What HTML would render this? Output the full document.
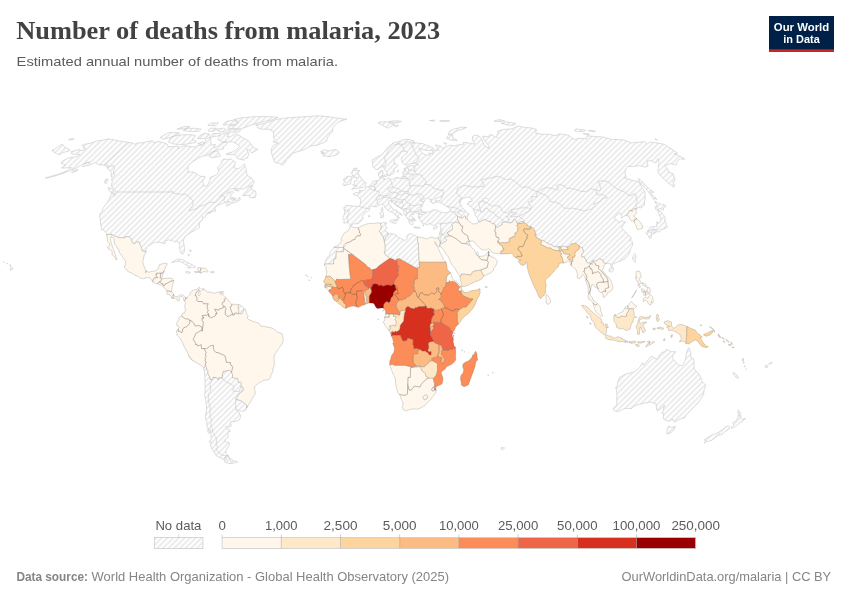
<!DOCTYPE html>
<html lang="en">
<head>
<meta charset="utf-8">
<title>Number of deaths from malaria, 2023</title>
<style>
html,body{margin:0;padding:0;background:#fff;}
body{width:850px;height:600px;overflow:hidden;}
svg{display:block;}
.sans{font-family:"Liberation Sans",Arial,Helvetica,sans-serif;}
.serif{font-family:"Liberation Serif","Times New Roman",Times,serif;}
</style>
</head>
<body>
<svg width="850" height="600" viewBox="0 0 850 600">
<defs>
<pattern id="hatch" patternUnits="userSpaceOnUse" width="4" height="4" patternTransform="rotate(-45 2 2)">
<rect x="-1" y="-1" width="6" height="6" fill="#fff"/>
<path d="M-1,2 l6,0" stroke="#e9e9e9" stroke-width="1.7"/>
</pattern>
<clipPath id="mapclip"><rect x="0" y="85" width="850" height="400"/></clipPath>
</defs>
<rect width="850" height="600" fill="#fff"/>
<!-- header -->
<text class="serif" x="16.2" y="39.2" font-size="25.6" font-weight="700" fill="#424242" textLength="424" lengthAdjust="spacingAndGlyphs">Number of deaths from malaria, 2023</text>
<text class="sans" x="16.6" y="66.3" font-size="13.6" fill="#5b5b5b" textLength="321.5" lengthAdjust="spacingAndGlyphs">Estimated annual number of deaths from malaria.</text>
<!-- logo -->
<g>
<rect x="769" y="16" width="65" height="36" fill="#002147"/>
<rect x="769" y="49.3" width="65" height="2.7" fill="#ce261e"/>
<text class="sans" x="801.5" y="30.8" font-size="11.4" font-weight="700" fill="#fff" text-anchor="middle" textLength="55.3" lengthAdjust="spacingAndGlyphs">Our World</text>
<text class="sans" x="801.5" y="42.6" font-size="11.4" font-weight="700" fill="#fff" text-anchor="middle" textLength="36.5" lengthAdjust="spacingAndGlyphs">in Data</text>
</g>
<!-- map -->
<g clip-path="url(#mapclip)">
<path d="M424.9,400.0 427.3,398.0 428.0,396.7 426.4,394.6 424.5,395.4 422.7,397.3 423.4,399.1ZM385.2,238.9 384.1,240.7 385.1,245.2 384.8,247.8 385.1,250.5 384.0,251.4 385.4,254.9 389.9,258.3 393.3,259.2 394.9,260.7 398.9,258.4 417.3,268.8 417.2,267.5 419.5,267.5 418.3,243.3 417.5,240.9 417.6,237.8 418.2,237.0 413.8,235.3 412.4,234.0 410.2,233.7 408.1,234.5 406.6,236.1 407.2,237.9 407.0,239.2 405.1,240.5 396.8,236.8 396.3,235.0 394.1,234.2 391.9,233.7 389.9,233.8 388.2,233.1 388.2,235.0 385.6,236.8ZM381.0,229.1 379.3,230.6 379.3,231.4 380.7,233.2 381.2,234.8 382.8,235.8 384.1,240.7 385.2,238.9 385.6,236.8 388.2,235.0 388.2,233.1 387.2,232.1 385.0,231.1 385.0,230.3 386.4,229.0 387.0,227.7 385.9,226.1 385.6,224.6 386.6,222.7 384.9,223.5 385.1,222.5 384.0,222.2 381.5,223.1 381.0,223.1 380.7,224.4 381.1,227.4ZM333.8,259.6 336.1,258.4 336.2,251.8 343.6,251.8 343.7,247.4 333.9,247.4 332.4,250.1 330.6,251.5 329.4,255.2 327.2,257.8 326.4,259.4 324.8,262.5 324.5,265.4 324.8,264.0 333.5,264.0ZM238.9,310.4 238.4,312.5 237.7,313.8 239.3,313.7 241.4,314.0 242.2,313.1 244.3,308.8 242.9,307.0 241.5,305.9 239.0,304.6 237.9,306.7 237.9,308.0ZM84.2,150.1 80.1,150.5 80.1,149.6 75.8,150.3 71.1,151.6 71.5,153.5 72.5,154.2 80.2,154.2 79.1,155.3 76.4,156.5 72.5,157.4 69.0,157.7 62.7,161.0 61.1,163.3 65.4,164.8 64.4,166.0 61.5,168.0 68.3,167.9 71.4,167.7 67.2,170.6 63.5,172.3 57.3,174.5 53.4,175.5 45.2,178.2 50.7,177.2 56.0,175.7 69.8,170.8 76.0,168.2 84.2,163.6 89.7,161.9 85.5,163.6 82.6,166.7 90.2,164.8 95.3,162.6 98.5,164.8 103.0,164.9 105.3,165.9 107.1,167.2 107.9,169.1 109.4,169.6 110.8,171.6 111.3,173.8 111.1,176.2 112.4,177.0 111.7,178.9 112.2,181.9 111.6,184.4 111.7,186.9 114.4,188.7 116.2,192.0 115.9,193.8 114.1,196.3 114.5,194.0 111.4,193.5 109.3,199.2 105.6,204.8 103.2,207.9 102.0,211.3 99.8,214.1 99.7,217.0 100.5,221.2 100.5,224.0 101.5,227.7 101.2,229.5 103.7,230.4 105.0,231.4 106.7,233.4 106.6,234.7 112.1,234.2 111.7,234.8 119.0,237.8 125.1,237.8 125.5,236.6 129.2,236.6 131.6,239.6 132.0,242.2 134.4,244.0 136.1,242.0 138.9,242.0 140.4,245.7 141.7,247.8 142.0,250.7 146.1,251.9 146.0,249.7 146.7,247.6 148.6,245.7 151.4,244.4 153.2,243.1 155.7,242.1 161.1,242.6 163.3,243.5 165.1,243.7 165.3,240.8 169.1,239.7 170.0,240.5 172.3,240.2 174.5,242.1 176.9,241.2 178.1,241.6 179.6,244.2 179.2,247.1 180.4,251.5 181.6,254.0 183.2,253.9 184.1,252.3 184.6,249.7 184.2,245.5 183.4,241.8 183.7,239.5 185.6,236.1 190.1,232.9 199.5,227.6 199.4,224.0 199.0,223.0 199.8,222.7 200.8,221.7 202.6,219.3 202.5,216.7 203.4,217.9 205.9,216.0 206.6,213.6 207.7,213.6 211.2,212.6 207.5,212.8 210.4,211.8 216.0,210.8 215.8,209.9 214.8,210.2 214.3,209.2 215.2,208.4 215.5,207.4 217.7,205.3 227.1,201.7 229.7,201.5 225.9,204.3 226.8,206.1 231.8,203.3 237.5,201.6 240.3,199.7 239.6,197.1 236.9,200.7 235.9,200.1 232.3,199.7 231.0,199.2 231.2,195.6 230.5,194.6 233.8,192.4 232.6,191.4 228.3,192.3 219.7,196.3 222.2,194.0 225.1,192.0 227.7,191.0 230.4,189.0 235.5,188.7 243.4,189.0 247.1,186.9 250.8,185.9 253.6,183.9 254.3,181.2 252.3,180.4 252.2,178.4 247.7,175.7 246.6,173.3 246.5,171.6 246.0,168.4 244.9,166.0 244.7,163.9 243.1,165.0 240.4,167.7 237.0,168.9 233.9,167.7 235.6,162.4 232.9,160.7 231.1,159.1 227.4,159.3 223.4,159.1 221.8,161.2 220.6,164.8 217.2,167.7 218.7,170.1 217.9,173.3 216.1,175.0 209.9,177.7 210.2,179.4 208.6,183.2 207.0,185.7 203.6,186.2 203.5,183.9 202.5,181.9 205.1,176.6 200.2,176.2 196.0,173.5 193.1,172.0 187.8,172.0 188.0,167.7 188.9,164.8 192.1,162.2 197.9,158.4 202.2,156.3 207.9,154.9 211.5,152.3 214.9,151.2 215.1,149.6 219.1,150.1 224.0,148.5 222.9,147.1 225.9,145.1 227.4,143.6 227.0,142.5 223.1,142.1 215.9,147.3 213.9,147.8 215.5,144.4 210.8,145.1 211.0,139.8 210.6,137.9 209.5,137.5 205.8,139.2 205.0,142.0 202.5,144.0 201.1,145.7 198.7,145.1 195.9,146.8 190.1,146.7 186.0,145.6 181.8,146.4 178.1,148.7 179.0,147.1 176.9,146.3 173.1,146.8 168.2,146.6 167.3,144.1 161.7,142.2 157.4,141.4 153.6,143.1 152.7,140.7 146.5,141.8 141.8,143.0 139.7,142.7 134.5,144.2 132.1,142.8 129.0,142.6 125.0,141.8 118.7,140.9 108.8,138.8 102.8,140.1 96.4,141.1 90.6,143.3 84.8,144.2 82.0,145.4 83.9,146.9 83.4,148.2 86.0,148.5ZM191.9,360.0 192.7,360.5 188.5,355.3 188.8,356.2ZM204.6,372.7 205.2,386.3 205.1,390.7 204.6,395.2 205.3,398.3 206.5,406.2 206.6,410.1 205.9,413.5 205.6,416.6 205.3,418.4 207.2,422.9 206.6,424.4 208.0,429.1 210.2,429.4 210.7,432.2 211.3,439.7 208.8,441.7 211.3,442.5 210.3,445.0 212.0,448.9 216.3,455.7 221.9,458.7 225.3,459.7 224.6,457.2 226.5,455.7 228.8,456.0 226.9,454.2 225.9,452.7 225.8,450.9 229.6,444.8 229.3,443.0 225.0,441.5 224.8,439.7 227.8,437.4 228.1,436.3 227.7,433.0 228.6,431.9 230.1,431.4 229.5,429.9 226.1,428.3 225.7,426.4 228.8,427.4 231.3,425.7 230.4,421.6 233.1,421.8 237.1,421.0 239.9,419.2 240.8,414.9 239.4,414.5 239.2,412.4 236.3,410.3 235.8,408.5 237.4,409.9 241.1,411.1 243.8,411.3 246.1,409.8 246.6,408.1 246.9,405.5 245.0,403.7 240.6,400.5 239.7,400.4 235.9,398.8 239.2,393.7 243.2,390.8 243.3,388.5 242.7,386.9 241.0,386.8 241.4,382.7 240.5,382.2 238.8,382.6 237.4,378.2 235.1,378.2 232.6,377.6 232.5,374.1 231.7,372.5 229.3,370.4 223.4,371.2 222.5,373.6 222.0,378.0 218.9,377.4 218.4,379.6 216.3,377.6 213.7,377.0 212.0,379.5 210.4,379.6 209.3,376.1 207.8,373.2 208.2,370.6 206.8,369.5 206.4,367.4 205.3,365.6 204.7,367.2 203.6,367.8ZM145.8,270.2 145.4,272.7 147.1,271.4 146.1,270.9ZM478.4,255.6 478.4,253.6 477.3,251.4 476.4,253.1 476.7,255.0ZM469.2,243.0 468.9,241.3 468.3,241.0 467.0,241.4 466.1,243.7 468.8,245.1 470.3,245.1ZM389.0,146.2 385.4,150.3 384.4,151.9 380.3,155.6 378.4,156.0 376.7,157.4 374.1,158.8 372.2,159.6 372.1,162.4 372.7,163.8 372.6,166.2 373.4,167.3 376.2,169.6 378.0,169.4 381.0,167.3 382.1,166.9 382.7,165.0 383.4,166.9 385.3,170.3 387.3,172.9 386.9,173.8 387.7,175.5 388.2,176.0 390.4,175.6 391.0,174.5 392.7,174.1 394.1,172.9 394.2,170.2 394.1,168.2 395.7,167.9 397.9,165.4 397.1,164.5 394.3,163.1 394.0,159.1 395.1,158.6 396.8,157.2 398.9,155.8 401.5,151.8 404.8,151.2 407.0,151.9 407.4,153.0 405.2,154.2 401.5,157.4 401.2,158.8 402.0,161.1 401.9,162.4 405.3,165.1 408.8,164.4 410.6,163.8 413.8,163.5 415.4,163.1 416.1,163.9 418.5,164.9 415.4,165.1 414.7,166.1 410.9,165.7 408.7,166.1 406.5,166.7 406.7,167.9 408.7,168.8 408.7,170.1 408.3,171.9 406.8,171.8 405.4,170.2 403.5,171.1 402.7,172.5 403.3,175.2 403.2,176.2 401.4,177.1 400.8,178.3 399.0,178.4 398.4,177.4 395.7,177.7 393.9,178.8 390.5,179.7 389.2,177.9 386.4,179.0 384.1,179.6 384.4,178.4 382.3,178.2 381.2,177.4 382.0,176.2 382.4,174.2 383.7,173.5 382.5,173.0 382.9,170.2 381.7,170.6 379.2,171.8 378.4,173.3 378.5,175.6 380.1,177.2 379.6,178.6 380.2,179.2 379.5,180.6 378.5,180.2 377.0,180.4 376.4,180.8 374.5,180.9 372.3,182.1 371.9,183.2 370.1,185.8 366.7,187.1 366.2,187.6 365.2,189.6 363.2,190.7 360.8,191.1 360.4,190.2 359.2,190.2 359.9,192.9 356.0,192.5 353.4,193.7 354.2,195.1 357.3,195.8 358.5,196.3 359.3,198.4 360.5,199.3 360.7,200.7 360.4,203.1 360.0,204.8 359.3,206.4 355.1,206.2 347.0,205.3 343.6,207.7 344.3,209.7 344.7,212.2 343.7,216.2 342.7,218.4 344.1,220.5 343.7,223.0 346.0,223.0 347.1,222.5 348.2,222.5 349.4,224.3 350.9,225.6 353.5,223.8 358.4,223.6 359.1,222.5 361.1,221.4 361.9,219.6 363.4,218.4 362.4,216.6 363.0,215.4 365.5,212.3 367.6,211.5 369.5,210.2 369.9,209.2 369.6,208.8 369.4,207.7 370.3,206.6 371.5,206.0 373.0,206.5 376.8,206.9 378.1,205.6 380.0,204.8 381.4,203.8 383.4,204.7 384.4,206.0 384.9,207.7 386.2,208.9 390.4,211.9 392.0,212.1 393.1,213.1 394.6,213.6 395.4,215.2 396.5,215.4 397.5,217.8 396.7,218.8 396.5,220.1 397.4,220.6 398.4,219.5 398.2,218.6 399.5,217.8 398.0,216.0 398.2,214.9 399.4,214.0 400.9,214.7 401.9,215.7 402.2,214.9 401.0,213.6 396.4,211.3 397.0,210.2 394.7,210.1 392.7,208.8 391.1,205.8 388.5,204.3 388.8,202.5 388.3,201.2 389.9,200.6 390.9,201.0 391.7,202.6 392.9,201.7 394.5,204.6 399.5,207.4 403.7,210.4 404.0,214.0 407.2,217.9 408.1,219.5 410.9,219.5 411.8,220.4 409.4,219.9 408.6,221.2 409.7,223.5 411.5,224.6 413.0,224.4 412.8,222.2 412.2,220.6 413.3,220.5 414.6,221.3 414.4,220.1 413.4,219.1 411.8,218.0 412.6,217.3 410.9,215.2 411.4,213.6 412.5,214.4 413.8,214.9 413.1,213.4 414.5,212.8 417.7,213.0 418.2,213.6 418.7,214.9 419.6,213.5 421.0,212.6 424.4,212.6 426.1,213.2 424.3,214.1 421.2,214.4 419.5,214.1 418.5,215.2 418.5,216.5 419.8,217.0 420.3,218.0 419.2,219.6 421.3,221.2 421.9,223.0 424.1,223.5 426.9,225.2 428.8,224.8 428.8,223.4 429.7,223.4 433.4,225.5 435.7,225.2 437.5,223.5 439.0,224.0 440.9,223.5 440.4,224.8 440.3,226.8 440.8,229.5 439.3,234.0 438.9,236.6 438.2,237.9 440.2,242.6 440.4,242.6 440.4,242.9 442.7,243.4 444.2,241.7 445.8,241.3 446.8,240.0 444.3,237.4 448.5,236.1 448.9,235.7 447.7,232.4 452.1,229.8 452.4,228.7 452.5,226.6 452.0,224.7 454.0,222.7 455.3,222.1 458.0,223.0 459.2,222.5 457.5,219.3 457.5,216.7 458.1,216.0 459.8,217.8 461.4,218.2 462.2,218.0 464.8,216.0 465.8,216.9 465.3,218.3 466.8,219.3 467.5,219.3 467.2,217.0 467.6,214.7 469.4,214.3 467.6,213.5 466.4,211.8 462.1,207.4 461.4,205.3 459.8,203.5 460.6,200.7 463.1,198.6 467.2,197.1 471.2,198.1 472.3,201.5 469.0,201.5 468.4,203.3 467.1,204.0 472.6,207.9 474.6,212.6 475.3,215.2 477.2,217.8 478.7,222.1 480.6,221.8 481.8,220.4 485.3,219.7 488.2,221.4 490.2,221.7 492.9,224.0 494.7,223.9 495.5,226.6 497.7,227.4 499.3,226.0 502.1,224.8 502.1,222.7 503.8,222.2 505.7,222.1 508.6,222.5 509.4,223.0 511.9,222.7 513.1,221.6 513.5,220.5 514.6,219.2 516.1,220.6 517.1,223.8 519.1,223.0 520.3,221.8 522.7,221.9 523.8,222.3 526.5,224.0 527.6,226.0 531.3,226.9 534.6,230.0 534.9,232.1 536.4,234.8 534.8,234.6 536.0,237.2 541.8,240.8 542.5,240.2 544.5,241.2 547.8,243.4 549.6,244.3 551.9,245.0 554.0,246.7 556.8,246.9 558.8,246.8 560.2,246.4 560.8,248.4 561.9,246.1 563.7,246.3 566.6,247.1 568.5,246.9 569.8,245.5 571.8,243.7 574.2,243.8 575.8,242.9 577.1,244.4 581.1,247.6 582.5,247.7 583.4,251.8 581.6,254.4 581.7,257.0 584.3,257.0 585.1,259.1 586.4,259.9 586.2,261.8 588.2,263.0 590.9,263.4 592.4,264.5 592.0,261.1 592.8,261.2 596.8,260.7 599.4,258.8 602.8,260.0 603.0,262.2 604.8,263.3 609.9,263.5 610.5,265.4 612.3,266.7 612.1,264.3 618.4,261.7 619.9,261.4 621.5,260.4 625.0,258.8 628.5,254.9 630.0,251.8 630.4,249.9 631.6,246.8 632.7,245.2 632.5,241.8 629.3,240.5 631.4,238.9 630.6,236.8 627.9,234.8 625.8,232.1 621.7,228.2 622.8,225.6 623.7,224.3 625.9,221.9 621.8,220.9 618.5,222.2 617.2,220.4 613.9,217.8 616.6,215.4 618.4,213.0 620.9,213.9 621.6,218.3 624.2,216.2 626.6,215.3 628.7,212.6 629.5,210.5 632.6,211.5 631.7,210.0 634.4,208.8 636.3,208.8 636.7,209.2 638.0,207.1 640.8,208.0 644.1,205.6 645.2,197.1 645.0,192.0 642.5,188.2 639.0,181.9 631.9,180.2 623.9,177.7 626.1,177.0 624.9,172.5 625.9,169.6 627.7,166.3 633.0,166.5 637.7,165.7 641.2,165.9 644.8,167.2 648.1,166.0 647.7,164.8 647.0,161.0 651.2,160.7 655.8,163.1 657.9,158.8 659.2,163.6 658.3,166.0 658.2,168.4 657.7,170.8 659.3,174.5 664.3,179.4 669.9,184.4 673.8,187.2 674.4,184.4 672.6,181.9 674.8,181.4 674.8,177.4 673.7,177.0 673.7,174.2 668.9,172.0 668.0,169.6 664.7,166.0 665.4,165.0 667.9,164.8 670.1,163.6 676.1,165.0 676.8,162.4 678.0,160.5 680.3,158.8 684.9,159.3 683.2,157.9 678.2,155.3 674.1,153.7 676.6,153.9 677.5,153.0 664.1,144.1 662.3,144.0 654.9,142.5 649.6,142.2 647.3,144.0 644.5,141.6 631.5,142.9 624.1,140.1 617.4,139.4 612.0,139.6 603.4,137.1 587.2,135.8 586.7,139.0 582.6,138.3 578.0,138.6 575.2,139.6 571.2,137.7 569.3,135.6 563.8,134.3 558.5,133.9 559.0,135.0 553.6,135.4 549.5,134.3 541.4,134.1 535.7,133.3 536.4,129.4 532.6,128.2 523.8,127.2 518.0,125.9 512.1,128.8 503.6,129.4 497.7,131.2 498.0,133.3 497.0,135.8 497.0,137.7 490.4,134.3 488.3,136.9 482.8,136.0 483.8,139.6 488.3,145.1 489.2,148.7 484.1,145.1 481.9,139.6 478.7,135.8 474.2,135.2 472.7,136.4 472.3,140.1 474.3,142.7 474.8,144.2 470.5,143.3 463.2,142.2 463.4,144.2 459.5,144.7 454.1,145.8 450.4,145.1 445.3,146.9 442.5,148.5 440.8,146.2 435.7,144.9 437.4,148.5 439.2,150.3 435.3,149.8 432.3,151.2 433.2,153.9 428.5,153.0 430.0,154.9 427.4,155.3 424.2,154.4 422.4,153.0 418.5,148.2 423.2,149.8 428.7,150.7 432.0,150.3 433.7,148.7 432.9,147.8 423.1,143.8 412.8,142.5 414.1,141.1 409.5,139.6 405.1,139.4 401.8,140.3 400.9,141.1 394.4,142.6 392.2,143.6 390.7,145.1ZM424.1,201.7 425.8,198.4 428.1,198.1 429.5,199.4 431.8,199.4 431.9,199.9 429.8,201.3 431.7,201.7 432.0,203.4 433.6,203.5 436.0,202.2 438.0,202.2 438.8,202.0 443.9,204.6 445.5,205.8 448.5,207.4 450.3,209.6 450.3,211.3 446.7,212.6 444.0,212.7 439.4,211.8 436.7,209.9 432.8,210.0 429.1,212.1 424.1,211.9 422.1,211.0 421.7,210.0 420.5,208.7 421.1,206.9 422.3,206.5 422.3,204.3ZM441.1,198.9 440.2,200.4 437.8,201.0 435.0,200.2 435.2,198.9 439.3,197.0 442.8,196.9ZM484.5,203.3 483.0,201.5 482.6,198.9 486.5,198.1 488.7,200.2 486.8,202.5ZM477.7,255.4 478.7,256.7 478.4,255.6ZM51.8,150.7 53.7,150.1 52.9,151.2 53.6,151.9 58.1,154.6 60.4,154.2 62.6,152.6 66.8,151.6 69.9,150.5 68.7,148.6 65.1,147.6 63.8,145.6 61.9,144.1ZM257.2,126.3 257.5,127.6 260.8,129.2 268.4,129.2 273.2,131.2 273.7,134.3 273.5,137.5 274.8,139.6 272.9,141.8 278.2,142.9 273.9,145.1 271.2,148.5 271.9,154.9 274.8,162.4 279.0,163.3 282.2,165.3 284.4,163.6 286.4,160.0 290.2,156.5 293.1,153.0 304.5,149.6 310.6,146.0 317.6,145.1 323.1,142.9 326.9,140.7 327.5,137.5 329.8,134.3 332.8,131.2 332.7,128.2 334.9,125.3 337.8,122.5 341.7,120.7 346.9,119.2 335.4,117.9 329.0,116.7 318.5,115.8 287.3,117.8 276.1,119.5 264.1,123.4 255.4,124.9ZM324.6,152.8 321.0,153.3 324.3,154.4 322.8,155.8 329.6,156.7 333.8,155.8 337.5,154.4 339.3,152.8 337.8,150.7 335.1,149.6 327.9,151.0 324.3,149.7 320.4,151.9ZM354.6,188.6 356.0,188.7 359.0,187.8 361.0,187.6 363.6,187.6 365.8,186.4 365.0,185.1 366.4,182.9 363.6,181.9 363.2,180.4 362.6,179.2 360.7,177.9 360.1,176.2 359.2,174.9 357.3,174.5 359.6,170.6 356.4,170.3 355.1,170.6 357.2,168.2 353.7,168.2 352.0,172.0 351.3,172.8 352.3,174.5 352.3,176.1 353.8,175.5 353.2,177.3 355.3,177.4 356.5,177.2 356.1,178.2 357.2,179.4 357.0,180.9 354.6,181.1 354.0,182.3 355.0,183.2 353.8,184.3 352.6,184.7 354.5,185.4 357.1,185.9 356.5,186.4 354.5,186.6 352.8,188.5 351.6,189.3ZM350.9,181.2 352.2,178.4 351.3,176.5 349.0,176.1 346.7,176.7 346.4,178.2 343.7,178.9 343.7,180.9 345.5,181.6 342.6,184.2 343.5,185.4 346.2,185.3 349.2,184.2 350.6,184.1ZM658.6,212.1 659.3,215.4 660.0,216.0 661.1,218.8 659.9,222.6 657.8,223.5 657.6,221.7 656.5,221.9 657.0,223.3 656.5,224.8 657.0,226.5 655.5,226.4 653.5,226.8 650.9,226.6 650.2,227.0 648.9,229.0 647.6,230.0 648.2,231.0 650.9,230.0 652.2,230.0 654.0,229.3 656.8,229.3 657.1,230.8 659.2,232.3 659.8,231.0 660.7,230.0 660.5,229.3 664.5,229.1 664.6,227.7 665.4,227.2 666.3,228.5 667.0,227.8 667.5,226.4 666.2,224.8 666.0,223.0 664.3,219.6 665.4,219.6 664.7,216.5 660.6,211.5 659.3,211.3ZM659.5,210.5 657.0,209.2 658.3,209.2 659.2,208.4 663.5,210.1 663.5,207.9 664.2,207.4 666.3,206.5 664.3,204.8 663.8,203.9 662.3,204.9 658.5,203.3 654.7,201.0 655.2,202.5 656.8,204.8 657.3,206.6 655.2,206.6 655.9,209.5 657.8,211.5ZM648.1,231.1 645.9,232.7 646.8,234.2 648.4,235.5 649.3,237.9 650.6,238.7 651.2,237.9 651.4,236.3 651.4,233.7 650.2,231.9ZM652.3,233.4 653.8,234.1 654.2,232.1 656.0,232.8 656.5,231.4 656.0,230.3 654.3,229.9 652.1,230.8 651.3,232.5ZM639.1,181.2 641.7,184.4 645.4,188.2 648.6,192.0 653.9,199.7 654.1,197.9 656.8,199.7 655.5,197.6 652.8,195.8 650.4,192.0 654.0,192.3 650.0,189.5 645.8,185.7 642.7,181.9 638.4,178.4ZM633.8,254.4 632.6,257.3 632.8,259.4 635.1,262.5 635.7,259.4 635.8,254.4 634.7,253.6ZM609.2,271.4 611.3,272.2 613.2,270.6 613.9,268.4 612.1,267.2 610.0,267.7 608.8,269.6ZM229.7,136.9 227.2,136.4 229.2,133.7 221.9,133.9 220.6,135.4 217.7,139.6 222.5,141.8 232.4,141.8 236.2,143.6 239.5,146.2 236.6,149.6 232.6,151.9 226.1,153.9 226.6,154.6 234.5,154.6 237.6,158.6 244.2,160.3 243.6,159.3 247.5,157.9 248.9,153.9 246.9,149.6 249.3,150.1 252.0,153.0 257.7,149.4 253.9,147.8 248.1,140.5 243.2,138.1 240.1,135.8 235.3,133.9ZM172.8,143.6 178.2,144.9 187.4,144.0 194.5,142.7 196.5,141.4 192.4,139.6 195.5,135.8 191.8,134.7 182.3,134.7 174.5,136.0 169.9,138.6 168.6,142.0ZM162.7,139.2 167.7,138.3 174.7,135.8 179.6,133.1 174.3,132.3 168.3,132.7 160.2,137.5ZM241.3,128.8 245.8,127.2 253.0,124.4 261.0,122.1 271.6,119.9 278.0,117.4 267.9,116.5 254.2,116.7 241.9,117.8 234.1,119.5 238.7,121.6 236.9,124.4 228.9,126.3 228.0,128.4ZM230.5,132.3 238.4,132.0 240.8,130.2 236.0,129.6 226.4,130.0 223.7,128.2 215.8,129.2 219.9,131.8ZM234.1,124.9 237.6,122.5 233.4,120.0 225.8,121.6 223.0,124.9ZM192.2,131.6 198.9,131.2 201.3,129.2 196.2,128.4 187.4,128.2 183.7,129.8 183.4,130.6ZM214.4,131.2 216.1,128.2 210.1,128.2 208.2,131.2ZM204.8,138.6 209.7,134.3 204.4,133.3 199.5,135.8 197.5,138.6ZM219.4,135.8 220.1,133.3 212.9,133.5 209.0,137.5ZM201.7,144.9 204.7,143.3 202.7,141.8 197.8,143.6ZM208.7,155.8 211.2,157.9 220.3,156.3 220.0,155.3 217.6,151.0 212.7,151.9ZM216.1,125.7 218.3,122.9 210.8,123.0 207.8,125.3ZM186.8,128.6 189.8,126.5 183.6,126.7 176.9,129.2ZM249.4,195.6 249.9,197.4 254.6,198.0 256.1,195.6 255.7,191.2 251.2,189.5 252.7,185.4 248.8,187.7 242.7,195.6ZM108.5,189.5 111.3,192.8 114.0,193.5 113.5,189.5 108.2,187.4ZM104.4,181.9 105.7,183.9 108.0,179.4 105.9,178.9ZM71.7,172.5 76.2,171.3 78.2,169.6 72.9,170.6ZM234.3,190.0 239.1,191.0 237.2,189.7ZM233.9,199.7 236.3,198.5 232.0,197.4ZM175.1,261.7 178.6,261.2 181.8,262.2 186.0,264.8 189.0,266.2 187.4,267.9 193.5,267.7 195.6,266.8 192.5,264.8 185.3,261.2 182.2,259.4 177.9,259.2 176.5,259.6 171.7,262.6ZM185.6,272.2 187.9,273.4 190.3,272.7 188.6,271.5 185.5,271.8ZM210.7,272.8 214.0,272.7 214.3,271.7 210.8,271.4ZM221.3,293.4 223.4,293.4 223.7,291.5 221.4,291.7ZM190.6,251.8 191.3,250.5 189.2,249.9ZM188.9,256.2 189.3,254.4 188.0,254.1ZM226.9,458.9 225.4,459.9 224.3,461.7 229.0,463.6 231.8,463.4 235.3,462.8 237.6,461.8 233.5,460.7 230.2,458.4 228.9,456.7 225.2,457.2ZM208.0,432.7 209.6,433.2 209.1,430.4 207.8,429.6ZM378.7,123.4 382.2,124.9 383.9,126.3 388.4,128.1 390.6,126.3 394.5,124.2 385.9,121.6 378.8,122.1ZM391.1,122.3 397.7,122.9 401.5,121.4 395.6,120.7 388.7,121.4ZM394.3,126.1 396.6,126.7 398.5,125.5 393.9,124.9ZM450.6,140.1 457.3,140.5 452.5,137.5 452.7,135.0 448.6,134.7 446.5,138.3ZM453.0,134.1 455.9,131.2 463.4,128.8 466.8,127.4 462.2,127.2 454.3,128.8 449.7,131.2 448.4,134.3ZM509.4,125.3 514.8,124.9 515.7,123.4 506.4,121.9 501.1,123.4ZM499.0,121.7 504.7,120.7 498.9,119.5 494.0,121.2ZM577.6,131.8 584.4,131.2 585.5,130.0 576.3,129.0 574.2,130.6ZM594.7,131.8 595.4,130.8 588.1,130.6ZM588.4,135.0 589.5,134.1 583.1,133.5ZM657.4,140.0 655.0,138.6 655.3,139.8ZM68.6,140.0 74.1,139.1 71.0,138.6ZM434.2,121.2 434.8,120.0 429.5,120.5ZM444.5,121.6 449.7,121.0 446.4,120.4 439.7,120.9ZM445.5,144.7 446.9,143.6 443.6,142.9ZM390.1,221.6 395.5,223.9 395.9,222.9 396.2,219.7 391.6,220.0 389.7,220.9ZM380.2,213.6 380.8,215.4 380.9,217.9 382.4,217.3 383.3,217.4 383.5,212.8 382.4,211.9 380.2,212.7ZM381.0,210.2 382.4,211.5 383.0,209.7 382.6,207.4 380.9,208.9ZM414.0,227.6 416.6,228.3 419.8,228.2 420.0,227.4 413.9,226.8ZM433.3,228.9 434.7,229.3 436.7,228.2 437.7,226.4 434.4,227.3 433.0,228.1ZM369.5,217.0 370.3,216.0 369.6,215.3 368.0,216.2ZM384.5,176.5 386.4,176.5 387.1,175.5 387.0,174.2 384.2,175.2ZM382.2,176.7 383.5,176.8 383.7,175.7 381.7,175.7ZM397.4,172.3 398.4,171.1 398.6,169.8 397.2,172.0ZM403.9,169.4 405.7,169.6 406.2,168.2 404.0,168.4ZM414.3,219.6 415.6,220.4 414.6,218.8 412.9,217.9ZM422.9,225.9 424.0,225.3 423.1,224.6ZM418.6,217.9 419.6,217.5 418.3,217.0ZM10.6,270.3 13.0,268.8 12.7,268.1 11.1,266.8 10.3,268.1ZM10.1,265.9 11.1,265.4 9.6,265.0ZM6.9,264.1 7.7,263.7 6.5,263.4ZM3.9,262.5 4.5,262.0 3.5,261.8ZM688.0,348.6 686.4,352.8 685.9,357.7 684.5,361.7 682.5,365.6 679.1,365.3 674.6,361.1 672.6,358.3 673.3,354.6 675.9,351.7 671.4,351.7 666.2,349.4 665.7,351.5 661.7,352.4 659.3,355.1 658.2,358.7 654.9,358.8 652.6,356.2 650.2,357.0 647.9,360.1 645.7,362.5 643.5,365.3 642.3,362.7 642.2,363.5 640.0,366.9 638.1,369.0 634.1,371.9 630.8,372.9 626.3,373.8 622.1,376.1 620.0,376.8 618.9,378.9 618.0,381.3 617.4,385.0 615.5,388.2 616.1,388.1 617.0,395.2 616.7,399.1 616.9,403.5 615.6,406.9 613.7,407.7 613.2,409.7 614.7,411.0 618.8,411.4 624.3,408.6 628.5,408.4 632.0,408.5 634.0,406.2 639.1,404.3 646.2,402.8 651.3,402.2 656.1,403.9 656.7,410.1 657.9,410.9 661.6,408.0 664.6,405.1 663.2,409.3 663.5,410.9 661.6,413.1 663.6,413.0 663.5,416.3 663.6,419.0 665.5,420.3 669.0,421.3 673.1,419.2 672.7,420.3 674.7,422.1 679.9,419.0 684.6,417.9 686.0,415.6 694.7,405.9 697.2,404.1 703.5,394.8 704.0,390.5 705.8,385.2 703.5,383.1 701.5,381.0 701.9,379.5 699.4,375.0 697.3,372.1 695.1,370.2 694.2,369.0 693.8,359.1 690.7,357.2 690.7,352.5 689.0,347.8ZM667.8,427.5 666.9,430.9 666.7,433.5 668.1,433.8 671.1,432.7 674.1,429.6 675.4,426.5 671.8,427.3 668.6,426.2ZM737.8,411.9 738.5,415.0 737.7,417.9 735.7,421.0 732.7,422.6 734.0,424.9 731.0,427.8 731.5,428.6 737.4,425.2 739.3,422.9 742.7,421.0 745.6,418.4 742.2,419.2 740.5,417.9 741.1,415.3 739.2,416.3 740.6,412.7 738.8,411.4 738.4,409.8ZM725.7,427.0 721.9,430.1 718.6,432.2 709.9,436.1 704.1,439.9 706.5,441.5 707.8,441.6 712.9,439.7 717.6,435.6 722.4,434.3 722.4,433.5 729.2,428.8 729.7,426.8 728.1,425.7ZM733.1,372.9 734.8,376.1 737.5,378.4 738.8,377.9 736.3,374.5 733.4,372.4ZM765.0,367.4 767.8,367.2 768.0,365.6 765.3,365.3ZM769.0,364.3 771.7,363.2 772.2,362.2 768.6,363.8ZM704.2,443.0 705.7,442.2 704.7,442.0ZM501.1,449.1 503.4,449.4 504.6,447.8 501.1,447.6ZM492.8,373.4 493.5,372.7 492.7,372.1ZM488.1,375.7 488.8,375.0 487.7,374.5ZM626.8,309.1 627.9,308.4 628.3,306.2 626.9,306.3 625.2,307.6 625.1,307.8Z" fill="url(#hatch)" stroke="#c8c8c8" stroke-width="0.6" stroke-linejoin="round"/>
<path d="M411.3,143.9 411.1,145.8 413.9,146.9 412.8,148.7 415.2,151.4 415.0,153.5 416.8,155.1 419.2,157.9 417.1,161.7 413.8,163.5M397.3,143.9 393.6,145.1 391.1,147.3 388.0,150.5 387.4,154.2 384.7,156.5 385.1,161.2 386.2,161.7 384.9,165.3 383.7,167.3M397.3,143.9 398.8,143.3 402.4,144.7 405.6,144.0 406.0,142.0 409.2,141.7 411.4,143.8 411.3,143.9 414.3,142.8 412.8,142.5M397.3,143.9 403.0,146.4 403.6,148.9 404.8,151.2M414.7,166.1 414.7,170.8 416.6,174.1 422.0,175.5 422.4,177.2 426.3,181.2 424.7,184.2 430.6,184.9 433.7,188.5 438.9,189.7 443.3,190.6 443.5,194.6 440.9,196.6M408.7,170.0 411.7,170.1 414.7,170.8M403.1,174.2 406.7,173.6 410.5,174.0 413.8,175.2 416.6,174.1M413.8,175.2 412.6,177.2 412.3,178.7 408.5,179.6 409.8,182.7 409.6,185.7 410.8,187.3 408.3,190.7 407.8,193.5M400.8,178.3 407.0,178.6 408.5,179.6M407.0,178.6 406.8,177.0 403.2,176.2M409.6,185.7 417.3,185.7 423.5,186.2 424.7,184.2M390.5,179.7 391.6,182.9 392.6,186.9 395.4,188.0 398.3,188.7 400.8,190.7 403.3,191.5 408.4,191.8M392.6,186.9 387.3,188.7 390.8,192.6 393.1,192.0 397.1,193.0 400.8,190.7M390.8,192.6 388.9,195.3 384.3,195.8 382.5,195.8M397.1,193.0 397.6,194.6 395.8,197.5 391.0,198.4 387.8,197.0 384.4,197.5 382.5,195.8M397.6,194.6 401.1,195.1 404.3,193.3 407.8,193.5M395.8,197.5 399.1,199.8 402.0,199.9 404.6,199.3 406.3,198.6 409.3,194.6 407.8,193.5M409.3,194.6 413.5,195.3 416.7,193.9 420.6,198.4 421.0,201.1 424.1,201.7M404.6,199.3 407.2,202.8 409.5,203.3 410.5,205.2 416.0,205.7 418.9,204.4 422.4,205.5M416.7,193.9 419.1,193.4 422.1,194.8 424.3,198.6 422.3,199.7 421.0,201.1M391.0,198.4 390.9,201.0M391.2,201.0 394.4,201.0 396.7,198.4M402.0,199.9 402.2,202.5 395.9,201.7 395.7,204.3 399.7,207.4 401.7,208.8M402.2,202.5 403.6,204.8 402.9,206.1 401.6,207.9 403.4,209.5 403.7,210.4M403.4,209.5 405.0,208.4 406.2,210.2 406.2,212.3 407.3,213.0 405.9,216.1M405.0,208.4 408.6,209.2 409.9,209.2 409.6,204.3M407.3,213.0 411.2,211.7 414.6,211.5 417.9,211.7 418.5,212.7M409.9,209.2 411.2,211.7M417.9,211.7 418.4,210.2 421.7,210.0M359.3,206.4 364.5,208.0 369.6,208.8M368.0,186.7 371.4,189.5 374.6,190.6 375.8,190.7 379.5,192.0 378.4,195.6 375.5,198.9 377.4,199.9 377.0,202.5 378.6,205.3M378.4,195.6 382.5,195.8M377.4,199.9 380.4,198.5 384.3,197.4M369.5,186.1 371.5,186.2 374.7,186.7 374.9,187.6 374.6,190.6M374.9,187.6 375.8,190.7M376.4,180.8 376.9,183.9 374.8,184.7 374.7,186.7M379.5,177.2 381.2,177.4M344.3,210.2 349.2,210.1 348.4,214.7 347.1,216.1 348.0,219.9 347.1,222.5M440.9,224.0 441.9,223.0 444.7,223.4 450.7,222.7 454.0,222.7M450.3,211.3 454.7,212.3 455.5,214.9 458.1,216.0M446.2,206.4 452.7,207.4 456.8,208.2 460.4,210.2 463.7,212.1 465.0,210.4M454.7,212.3 457.7,211.8 460.4,210.2M457.7,211.8 460.9,215.2 462.2,218.0M440.2,224.6 441.9,223.0M439.7,233.2 441.1,232.7 442.6,230.3 441.0,229.1M441.1,232.7 443.6,235.3 447.7,232.4 448.9,235.7M447.7,232.4 452.1,229.8M440.4,242.6 441.0,237.4 440.9,234.2 441.1,232.7M443.6,235.3 440.9,234.2M459.8,203.5 459.3,199.7 462.0,198.1 456.8,193.5 457.5,188.5 463.2,185.2 471.0,186.9 479.1,186.9 484.6,186.2 481.2,179.7 488.5,178.4 494.0,177.0 498.8,176.2 505.3,179.7 510.9,178.9 514.7,181.2 521.7,187.3 528.3,186.9 533.7,190.5 538.4,191.8M538.4,191.8 536.1,193.5 537.3,196.6 531.8,196.6 532.1,201.0 527.9,202.2 531.4,207.0 531.0,209.5M531.0,209.5 527.4,212.3 525.2,212.6 523.6,214.1 519.6,215.7 519.5,216.7 523.0,219.2 523.8,222.3M531.0,209.5 528.4,207.9 521.0,207.8 516.8,208.9 511.7,209.2 511.5,209.5 508.4,211.5 506.7,213.0 503.5,212.2 501.1,208.9 500.9,207.4 497.8,205.6 491.9,206.1 483.4,200.7 478.4,202.2 480.9,211.8 477.7,210.0 474.1,209.7 473.3,210.6M480.9,211.8 483.2,211.8 485.4,207.9 488.7,209.5 489.5,211.5 493.5,212.3 495.3,215.2 499.8,217.9 505.7,222.1M508.6,222.5 509.2,219.9 506.2,216.5 508.5,216.3 509.3,213.2 511.9,212.6 511.7,209.2M511.9,212.6 517.1,213.0 515.1,214.8 512.3,214.7 510.2,216.3 513.9,216.7 519.5,216.7M538.4,191.8 540.8,189.7 546.0,187.4 550.2,188.0 557.6,190.1 558.5,188.2 556.5,185.7 559.5,184.4 565.1,186.2 566.3,188.2 572.0,188.5 576.7,189.7 580.8,191.2 585.3,191.6 589.1,190.6 590.7,188.7 596.2,189.8M538.4,191.8 539.9,193.0 546.0,195.3 548.4,197.4 550.0,201.5 555.7,202.2 560.3,204.2 564.3,208.2 573.7,208.3 582.3,210.2 583.7,211.0 591.7,208.8 595.3,205.6 593.5,203.8 597.5,202.9 601.1,200.4 602.6,198.1 607.4,197.9 606.4,196.6 602.7,194.6 597.8,194.8 596.5,194.3 596.2,189.8M596.2,189.8 599.0,190.7 600.8,189.2 599.8,185.2 599.4,183.1 597.6,182.4 599.0,181.2 603.2,180.6 608.1,181.8 617.2,189.0 625.5,192.4 628.3,195.3 631.6,195.3 634.0,193.5 636.0,195.3 637.2,202.0 635.3,204.8 636.7,207.4 636.3,208.8M129.0,142.6 104.7,164.1 107.6,164.5 107.8,167.4 113.6,165.3 114.3,168.6 113.3,173.0 115.4,174.5 113.0,177.0M116.2,192.0 171.8,192.0 172.3,191.0 172.5,192.8 177.2,193.8 181.7,194.6 184.5,193.8 190.2,197.4 190.4,198.5 191.8,199.4 193.3,201.5 192.3,205.8 190.5,208.4 188.7,210.0 189.9,210.8 198.0,207.9 198.2,206.2 203.4,205.7 208.4,202.4 215.6,202.2 219.1,199.2 222.5,196.0 224.2,196.2 225.0,197.0 223.8,200.4 224.8,202.5M212.0,379.5 212.5,380.0 209.8,383.9 210.9,390.2 208.4,394.1 208.3,400.9 210.2,406.9 210.3,411.9 209.8,416.1 211.9,420.8 210.7,423.4 211.2,426.5 212.7,429.9 212.6,432.2 214.6,434.3 214.5,435.8 216.3,438.1 216.6,441.5 216.2,444.3 217.6,447.3 215.8,448.9 218.0,451.9 219.7,452.7 221.4,455.2 228.8,456.0M228.7,456.8 231.1,462.4M222.0,378.0 226.2,382.1 230.8,383.9 234.3,386.7 232.6,391.0 237.5,391.5 239.1,391.4 241.0,386.8M231.7,372.5 229.3,370.4 223.4,371.2 222.5,373.6 222.0,378.0M235.9,398.8 235.6,404.8 235.8,408.5M222.0,378.0 218.9,377.4 218.4,379.6 216.3,377.6 213.7,377.0 212.0,379.5" fill="none" stroke="#c8c8c8" stroke-width="0.6" stroke-linejoin="round"/>
<path d="M431.6,389.7 432.6,391.2 434.5,390.1 434.3,387.7 433.5,387.1 432.5,387.6ZM433.8,381.3 433.4,378.4 429.2,377.9 426.6,378.9 423.6,381.6 421.2,384.4 420.0,387.1 414.4,386.0 411.3,390.1 409.1,390.1 407.8,384.7 407.4,394.1 405.1,395.4 399.5,394.6 400.3,396.3 401.6,400.1 403.0,402.8 403.1,404.8 402.1,406.2 403.0,408.5 403.1,409.7 404.0,409.8 406.4,410.9 408.4,409.9 411.2,409.3 413.9,408.9 417.1,409.3 420.3,408.2 424.9,405.4 427.6,402.5 430.4,399.9 432.2,397.0 434.1,395.2 435.4,393.6 436.3,390.1 434.5,390.1 432.6,391.2 431.6,389.7 432.5,387.6 433.5,387.1 434.3,387.7 434.7,383.6ZM426.4,394.6 428.0,396.7 427.3,398.0 424.9,400.0 423.4,399.1 422.7,397.3 424.5,395.4ZM411.3,390.1 414.4,386.0 420.0,387.1 421.2,384.4 423.6,381.6 426.6,378.9 429.2,377.9 426.1,376.3 425.5,373.4 422.2,371.1 420.3,366.4 418.1,366.9 415.8,366.9 410.6,367.7 410.3,377.4 408.0,377.4 407.8,384.7 409.1,390.1ZM407.4,394.1 408.0,377.4 410.3,377.4 410.6,367.7 415.8,366.9 418.1,366.9 420.3,366.4 419.0,365.6 416.1,365.9 411.5,366.9 405.0,365.3 394.8,365.3 392.5,364.3 389.7,364.9 391.7,370.6 395.5,379.5 395.4,382.6 396.3,386.5 396.8,389.5 397.7,392.5 399.5,394.6 405.1,395.4ZM391.7,326.1 392.7,325.0 395.4,326.2 396.1,324.8 396.3,321.4 395.0,319.3 396.3,317.7 395.7,316.1 393.5,316.4 393.6,314.0 389.1,314.0 389.1,317.2 384.4,317.2 384.8,319.3 384.4,320.8 383.2,321.8 385.4,326.1 388.5,330.1 390.4,329.0 389.7,325.9ZM389.1,314.0 385.4,313.8 385.4,315.9 384.4,317.2 389.1,317.2ZM331.7,286.7 328.3,286.6 324.8,287.5 327.3,289.4 328.7,291.1 329.4,289.7 331.7,289.2ZM327.9,284.9 331.4,285.0 331.5,284.5 330.4,284.5 328.6,283.6 327.9,284.2 325.0,284.2 325.1,284.7 324.7,285.4 326.9,285.4ZM458.5,290.9 461.2,291.1 462.5,290.2 461.6,289.4 460.6,289.4 461.9,288.5 461.4,286.6 459.8,287.2 458.2,289.4ZM450.7,281.9 452.1,281.3 454.1,281.9 456.2,282.9 456.8,283.8 459.8,287.2 461.4,286.6 458.1,283.4 456.3,281.3 453.6,280.3 452.8,279.0 450.5,272.7 448.1,274.8 447.0,275.2 446.0,280.3 446.3,282.5 448.7,282.6 449.3,280.8ZM330.1,276.2 335.2,281.2 336.1,280.5 336.6,279.1 338.6,279.5 350.5,279.2 350.8,277.0 350.3,276.6 349.1,264.8 348.5,254.4 352.3,254.4 343.7,248.4 343.6,251.8 336.2,251.8 336.1,258.4 333.8,259.6 333.5,264.0 324.8,264.0 324.5,265.4 326.3,266.9 325.7,269.0 326.3,270.1 326.7,272.4 326.2,275.3 325.6,277.5 326.0,276.6ZM418.3,243.3 419.3,262.2 446.1,262.2 445.4,261.7 443.0,259.1 442.6,257.0 439.6,251.5 438.2,248.4 436.5,245.7 435.1,243.1 434.8,241.6 435.1,241.6 436.3,243.9 437.6,245.7 439.1,247.2 439.8,245.7 440.2,242.6 438.2,237.9 436.0,238.4 434.0,237.9 432.9,237.4 431.1,237.1 429.8,237.4 428.8,238.2 426.6,238.9 422.8,237.6 418.2,237.0 417.6,237.8 417.5,240.9ZM346.2,242.9 348.6,242.3 351.3,241.3 352.2,240.0 355.0,239.5 355.1,238.4 356.9,235.8 360.3,235.8 360.2,234.8 360.7,233.7 359.3,232.7 359.3,230.6 358.2,227.9 356.7,227.4 353.5,227.7 351.6,225.9 350.2,226.1 349.7,227.7 348.1,230.8 346.4,231.9 344.4,232.8 341.5,237.4 341.2,239.6 341.7,240.2 340.4,242.9 337.5,245.7 334.3,246.7 333.9,247.4 343.7,247.4 343.8,244.7ZM365.6,264.6 367.1,266.7 370.1,268.2 370.2,270.0 372.6,269.7 375.9,268.8 379.9,265.2 389.9,258.3 385.4,254.9 384.0,251.4 385.1,250.5 384.8,247.8 385.1,245.2 384.1,240.7 382.8,235.8 381.2,234.8 380.7,233.2 379.3,231.4 379.3,230.6 381.0,229.1 381.1,227.4 380.7,224.4 381.0,223.1 376.5,222.9 374.0,223.6 371.6,223.3 369.7,223.4 365.8,224.2 360.4,226.6 358.2,227.9 359.3,230.6 359.3,232.7 360.7,233.7 360.2,234.8 360.3,235.8 356.9,235.8 355.1,238.4 355.0,239.5 352.2,240.0 351.3,241.3 348.6,242.3 347.0,242.7 343.7,247.4 343.7,248.4 352.3,254.4ZM241.4,314.0 239.3,313.7 237.7,313.8 236.5,313.1 234.5,313.3 234.2,315.0 231.2,314.7 229.6,315.9 227.3,316.4 225.7,315.0 225.2,313.0 225.4,310.4 226.2,309.5 225.3,308.0 225.2,306.7 223.6,306.2 222.9,308.0 218.8,309.2 218.4,310.2 214.6,309.1 215.4,310.4 217.2,314.0 215.8,313.4 215.6,315.5 212.4,317.3 210.5,317.8 209.1,316.7 208.1,314.3 206.9,315.2 202.4,315.4 202.4,317.0 203.6,317.1 204.0,318.1 201.9,318.4 202.3,320.8 203.4,322.7 202.3,330.8 200.3,330.8 195.6,333.7 195.0,335.8 193.8,337.9 193.3,339.4 195.7,343.4 195.3,344.4 197.2,344.7 197.7,346.0 201.3,344.7 201.5,348.6 203.9,348.5 206.8,348.6 210.5,345.7 213.4,345.4 213.7,349.9 215.9,352.4 218.9,352.9 221.3,354.2 223.8,355.1 225.0,355.9 225.8,359.3 226.3,362.3 230.4,362.5 230.4,364.8 232.0,365.7 232.7,367.4 231.6,371.6 231.7,372.5 232.5,374.1 232.6,377.6 235.1,378.2 237.4,378.2 238.8,382.6 240.5,382.2 241.4,382.7 241.0,386.8 242.7,386.9 243.3,388.5 243.2,390.8 239.2,393.7 235.9,398.8 239.7,400.4 240.6,400.5 245.0,403.7 246.9,405.5 246.6,408.1 248.8,404.1 250.5,402.0 252.0,399.1 253.1,396.7 254.9,394.6 255.2,392.0 254.7,389.9 254.6,386.8 256.0,385.2 259.2,382.6 261.2,382.1 262.8,380.5 265.9,380.0 268.6,379.9 270.7,377.4 270.8,375.5 273.0,371.1 273.1,368.2 274.1,366.1 274.3,363.0 274.1,355.9 275.1,353.8 276.2,352.5 278.2,349.1 279.7,347.3 282.1,343.9 283.1,340.9 283.2,338.4 281.9,333.4 277.3,332.1 274.5,329.5 273.4,328.7 269.9,327.3 266.9,327.1 263.2,326.1 260.9,326.3 259.7,324.0 257.2,322.7 254.0,321.4 252.6,321.6 251.7,320.6 250.3,320.3 248.0,319.3 247.1,318.2 248.2,315.5 246.4,313.8 245.6,309.6 244.3,308.8 242.2,313.1ZM208.2,370.6 207.8,373.2 209.3,376.1 210.4,379.6 212.0,379.5 213.7,377.0 216.3,377.6 218.4,379.6 218.9,377.4 222.0,378.0 222.5,373.6 223.4,371.2 229.3,370.4 231.7,372.5 231.6,371.6 232.7,367.4 232.0,365.7 230.4,364.8 230.4,362.5 226.3,362.3 225.8,359.3 225.0,355.9 223.8,355.1 221.3,354.2 218.9,352.9 215.9,352.4 213.7,349.9 213.4,345.4 210.5,345.7 206.8,348.6 203.9,348.5 206.2,352.5 205.5,353.6 206.0,357.0 205.0,358.5 205.6,359.8 205.1,360.8 206.1,362.2 205.0,365.1 206.4,367.4 206.8,369.5ZM205.0,365.1 206.1,362.2 205.1,360.8 205.6,359.8 205.0,358.5 206.0,357.0 205.5,353.6 206.2,352.5 203.9,348.5 201.5,348.6 201.3,344.7 197.7,346.0 197.2,344.7 195.3,344.4 195.7,343.4 193.3,339.4 193.8,337.9 195.0,335.8 195.6,333.7 200.3,330.8 202.0,330.8 201.8,326.9 198.1,325.4 195.4,326.1 193.6,323.1 191.9,321.2 189.8,320.1 189.9,322.3 189.3,323.9 186.8,326.6 184.0,327.7 182.8,328.7 182.3,331.6 181.6,332.9 180.0,331.4 178.2,331.4 178.4,328.7 177.1,330.0 176.2,332.0 177.2,334.2 176.8,335.2 177.3,335.5 179.7,337.9 181.9,341.3 184.0,346.2 186.7,351.3 187.6,352.5 188.5,355.3 192.7,360.5 201.0,365.3 203.6,367.8 204.7,367.2 205.3,365.6ZM181.6,332.9 182.3,331.6 182.8,328.7 184.0,327.7 186.8,326.6 189.3,323.9 189.9,322.3 189.8,320.1 187.5,318.8 185.4,318.9 181.7,316.0 178.9,317.7 178.8,319.7 176.9,322.5 176.8,325.6 177.0,325.8 179.1,326.6 179.3,327.7 178.4,328.7 178.2,331.4 180.0,331.4ZM231.3,311.0 233.1,314.8 234.2,315.0 234.5,313.3 236.5,313.1 237.7,313.8 238.4,312.5 238.9,310.4 237.9,308.0 237.9,306.7 239.0,304.6 231.9,304.1 231.6,306.2 230.0,307.2ZM222.7,302.3 222.0,304.2 223.6,306.2 225.2,306.7 225.3,308.0 226.2,309.5 225.4,310.4 225.2,313.0 225.7,315.0 227.3,316.4 229.6,315.9 231.2,314.7 233.1,314.8 231.3,311.0 230.0,307.2 231.6,306.2 231.9,304.1 231.7,304.1 229.5,302.0 228.8,300.7 225.9,298.1 224.0,299.4 224.7,301.2ZM195.0,295.7 195.8,295.7 197.0,297.9 196.8,300.3 197.8,301.5 202.2,301.5 203.7,303.8 208.2,303.7 207.3,305.9 207.1,308.0 208.3,310.9 207.0,312.3 208.5,313.5 209.1,316.7 210.5,317.8 212.4,317.3 215.6,315.5 215.8,313.4 217.2,314.0 215.4,310.4 214.6,309.1 218.4,310.2 218.8,309.2 222.9,308.0 223.6,306.2 222.0,304.2 222.7,302.3 224.7,301.2 224.0,299.4 225.9,298.1 225.5,297.3 223.6,295.2 222.0,293.9 220.3,294.2 219.7,293.1 221.4,291.8 218.9,291.8 216.1,292.5 214.2,293.4 211.7,292.2 209.9,292.1 207.4,292.3 205.7,290.0 203.7,289.7 203.1,288.0 202.5,290.0 200.6,291.0 199.2,291.1 198.7,289.9 197.8,290.6 196.4,292.3ZM198.1,294.4 198.4,292.6 199.2,291.5 200.0,292.8 200.2,294.7 199.0,296.0ZM185.5,302.5 184.9,305.4 184.9,308.8 185.8,309.6 184.4,313.0 182.7,313.0 181.8,315.1 181.7,316.0 185.4,318.9 187.5,318.8 191.9,321.2 193.6,323.1 195.4,326.1 198.1,325.4 201.8,326.9 202.0,330.8 202.3,330.8 203.4,322.7 202.3,320.8 201.9,318.4 204.0,318.1 203.6,317.1 202.4,317.0 202.4,315.4 206.9,315.2 208.1,314.3 209.1,316.7 208.5,313.5 207.0,312.3 208.3,310.9 207.1,308.0 207.3,305.9 208.2,303.7 203.7,303.8 202.2,301.5 197.8,301.5 196.8,300.3 197.0,297.9 195.8,295.7 195.0,295.7 196.4,292.3 197.8,290.6 198.7,289.9 198.6,289.7 200.0,288.9 200.5,288.1 199.2,287.2 197.8,288.7 196.1,289.7 193.3,290.2 191.8,290.9 190.2,292.6 189.9,294.9 187.1,297.3 186.7,299.0 185.6,297.2 185.6,299.1 184.3,300.8ZM172.9,298.7 174.3,298.1 175.7,298.6 177.0,299.4 177.4,300.8 178.6,300.8 179.5,300.2 178.9,298.1 180.1,297.3 180.8,296.4 182.0,296.5 183.5,298.1 183.6,300.2 184.3,300.8 185.6,299.1 185.6,297.2 183.2,295.2 180.9,294.7 179.7,295.5 176.9,296.8 174.7,296.2 173.8,294.7 173.0,294.9 173.2,296.5ZM167.0,290.8 166.7,291.3 166.8,293.6 168.1,294.7 168.6,293.8 169.3,294.7 171.2,296.2 171.1,297.8 172.1,297.8 172.9,298.7 173.2,296.5 173.0,294.9 173.8,294.7 173.0,293.6 171.5,291.3 171.0,291.7 169.0,291.0ZM166.9,283.4 165.3,283.8 165.1,285.0 163.7,285.8 162.8,286.0 167.0,290.8 169.0,291.0 171.0,291.7 171.5,291.3 172.4,285.8 173.7,280.5 170.5,281.3ZM161.2,283.3 162.9,283.7 162.7,285.0 163.8,285.5 163.3,285.8 163.4,285.9 165.1,285.0 165.3,283.8 166.9,283.4 170.5,281.3 173.7,280.5 172.0,278.3 169.7,278.1 162.4,278.6 159.7,282.1ZM159.7,282.1 158.9,282.1 157.5,283.8 161.0,285.3 162.7,285.0 162.9,283.7 161.2,283.3ZM160.9,273.1 160.1,278.2 160.8,278.2 162.4,276.6 162.9,274.0 164.2,271.4 163.5,271.4 162.8,273.0ZM156.5,274.7 155.6,274.7 157.5,277.7 154.5,277.8 153.1,279.9 152.8,281.7 154.8,283.3 157.5,283.8 158.9,282.1 159.7,282.1 162.4,278.7 161.5,278.7 160.8,278.2 160.1,278.2 160.8,273.2 156.6,273.2ZM140.4,245.7 138.9,242.0 136.1,242.0 134.4,244.0 132.0,242.2 131.6,239.6 129.2,236.6 125.5,236.6 125.1,237.8 119.0,237.8 111.7,234.8 112.1,234.2 106.6,234.7 106.9,236.6 107.5,239.2 107.5,241.3 109.1,242.9 109.9,245.2 109.5,246.0 107.4,246.9 108.5,248.9 110.7,249.9 112.3,251.8 111.9,254.4 115.4,258.3 116.0,259.9 117.2,259.1 115.8,256.5 115.2,254.9 114.4,251.2 113.2,248.9 110.8,241.3 110.6,238.7 111.0,236.6 112.5,237.4 113.9,238.4 114.5,243.9 116.7,246.7 117.1,248.4 119.1,249.9 119.2,252.8 120.7,253.9 122.1,256.2 125.1,260.7 125.8,263.4 125.4,265.6 124.4,266.4 124.6,267.7 127.0,270.0 128.5,271.9 131.3,272.8 133.8,274.5 136.1,275.7 138.5,276.6 140.6,278.1 143.5,278.8 146.6,277.5 149.3,277.7 151.4,279.5 152.8,281.7 153.1,279.9 154.5,277.8 157.5,277.7 155.6,274.7 156.5,274.7 156.6,273.2 160.8,273.2 160.9,273.1 162.8,273.0 163.5,271.4 164.2,271.4 165.5,266.9 167.4,264.3 166.9,263.3 164.3,263.3 161.3,264.1 159.1,264.8 158.6,267.5 157.9,269.0 156.3,270.3 154.7,271.0 151.2,271.5 148.8,272.3 147.1,271.4 145.4,272.7 145.8,270.2 143.5,265.1 142.8,261.6 144.1,255.7 146.1,251.9 142.0,250.7 141.7,247.8ZM634.6,219.6 634.4,220.9 633.8,221.4 634.6,221.8 634.6,223.5 636.1,225.6 636.8,228.2 637.9,229.8 642.8,228.0 642.4,225.6 640.5,222.5 637.0,218.8ZM631.7,210.0 632.6,211.5 629.5,210.5 628.7,212.6 626.6,215.3 629.0,216.5 629.8,218.8 631.5,221.2 632.9,220.9 633.8,221.4 634.4,220.9 634.6,219.6 637.0,218.8 634.2,217.0 634.3,215.2 636.7,212.8 635.6,210.5 636.7,209.2 636.3,208.8 634.4,208.8ZM592.9,302.9 594.6,309.3 596.0,311.9 598.1,314.0 601.0,316.4 602.6,316.1 600.7,310.6 600.6,308.8 599.9,305.9 597.4,303.6 596.7,304.6 595.1,305.0ZM605.0,289.4 606.1,288.5 608.8,287.6 608.2,284.5 608.0,281.3 604.6,282.2 600.0,282.2 597.8,282.5 596.9,284.2 596.5,284.3 597.1,286.7 597.9,287.9 598.5,290.2 599.8,292.1 602.0,292.6 603.4,291.1 606.0,291.5ZM602.8,260.0 599.4,258.8 596.8,260.7 592.8,261.2 594.8,263.0 595.8,265.2 599.0,265.8 598.3,268.4 601.2,271.0 606.7,277.5 607.9,280.0 608.2,284.5 608.8,287.6 606.1,288.5 605.0,289.4 606.0,291.5 603.4,291.1 602.0,292.6 603.0,294.2 603.1,297.3 604.3,297.2 606.9,294.9 607.9,292.6 610.1,291.5 612.6,289.4 612.9,287.1 612.0,283.7 611.0,280.5 609.0,277.7 605.9,275.3 602.4,270.1 603.8,267.5 603.9,265.4 606.3,263.4 604.8,263.3 603.0,262.2ZM590.1,267.1 590.2,268.8 591.8,268.8 592.6,272.7 592.1,274.0 594.4,272.2 595.6,272.8 597.2,271.7 598.6,271.9 600.7,274.3 601.2,276.9 603.1,278.7 603.4,281.9 602.7,282.2 604.6,282.2 608.0,281.3 607.9,280.0 606.7,277.5 601.2,271.0 598.3,268.4 599.0,265.8 595.8,265.2 594.8,263.0 592.8,261.2 592.0,261.1 592.4,264.5 590.9,263.4 589.9,265.2 589.0,266.5ZM596.5,284.3 596.9,284.2 597.8,282.5 600.0,282.2 602.7,282.2 603.4,281.9 603.1,278.7 601.2,276.9 600.7,274.3 598.6,271.9 597.2,271.7 595.6,272.8 594.4,272.2 592.1,274.0 592.6,272.7 591.8,268.8 590.2,268.8 590.1,267.1 589.0,266.5 587.7,267.2 586.6,268.1 584.5,268.2 584.4,271.3 583.6,271.4 586.9,276.1 586.5,280.0 587.0,279.8 589.0,283.7 589.5,286.7 590.5,289.4 589.2,293.1 588.7,293.8 588.2,296.2 588.4,299.1 590.0,299.4 591.8,301.7 595.1,305.0 596.7,304.6 597.4,303.6 595.4,301.7 593.6,301.0 592.2,297.6 590.5,295.7 590.0,292.3 591.3,287.1 591.2,285.0 593.2,284.7 594.8,286.8 597.4,288.1 598.2,289.2 597.9,287.9 597.1,286.7ZM589.5,286.7 589.0,283.7 587.0,279.8 586.5,280.0 586.9,276.1 583.6,271.4 584.4,271.3 584.5,268.2 586.6,268.1 587.7,267.2 589.0,266.5 589.9,265.2 590.9,263.4 588.2,263.0 586.2,261.8 586.4,259.9 585.1,259.1 584.3,257.0 581.7,257.0 581.6,254.4 583.4,251.8 582.5,247.7 581.1,247.6 579.1,246.0 579.2,248.9 575.4,251.8 574.6,253.9 575.1,255.2 574.2,257.4 572.2,256.9 572.8,259.4 572.5,261.7 571.4,262.2 571.7,264.1 570.9,264.6 571.3,265.6 572.8,266.9 574.5,268.0 576.5,270.6 577.4,274.0 577.2,277.9 580.0,278.5 582.9,274.5 584.8,276.6 585.3,279.2 587.0,284.5 588.2,287.4 588.3,291.5 588.7,293.8 589.2,293.1 590.5,289.4ZM567.7,258.3 567.7,256.7 569.4,256.0 569.8,254.4 563.8,253.6 563.6,251.8 560.4,250.6 559.8,252.3 561.9,253.9 560.4,255.7 561.9,256.7 562.3,259.1 563.7,263.0 566.7,262.2 567.6,260.7 569.5,261.4 570.3,263.8 571.3,265.6 570.9,264.6 571.7,264.1 571.4,262.2 570.4,259.6 569.0,259.6ZM563.1,249.9 568.1,249.5 567.9,248.0 566.6,247.1 563.7,246.3 561.9,246.1 560.8,248.4 561.3,249.5ZM546.8,247.3 548.3,248.2 550.0,247.8 551.4,248.4 552.9,249.8 557.3,250.7 559.5,250.7 558.8,246.8 556.8,246.9 554.0,246.7 551.9,245.0 549.6,244.3 547.8,243.4 544.5,241.2 542.5,240.2 541.8,240.8 540.5,244.4ZM494.9,231.7 495.8,232.1 495.8,235.5 496.7,237.4 498.6,237.6 499.1,239.1 497.5,241.7 501.3,243.0 503.5,242.6 504.9,243.0 506.7,242.6 509.5,241.6 509.2,238.9 510.1,237.9 511.8,237.9 512.5,236.6 514.3,237.1 515.0,236.3 514.9,233.2 516.4,232.5 517.8,230.7 517.5,229.8 518.1,227.7 516.7,225.5 517.5,224.6 519.1,223.5 522.2,223.4 523.8,222.3 522.7,221.9 520.3,221.8 519.1,223.0 517.1,223.8 516.1,220.6 514.6,219.2 513.5,220.5 513.1,221.6 511.9,222.7 509.4,223.0 508.6,222.5 505.7,222.1 503.8,222.2 502.1,222.7 502.1,224.8 499.3,226.0 497.7,227.4 495.5,226.6 495.6,228.7 494.8,230.0ZM465.8,216.9 464.8,216.0 462.2,218.0 461.4,218.2 459.8,217.8 458.1,216.0 457.5,216.7 457.5,219.3 460.8,225.6 462.9,226.3 462.1,228.9 461.8,230.8 463.7,233.4 466.6,234.9 468.1,236.8 468.0,238.7 468.8,240.1 470.2,241.4 472.3,241.0 473.8,241.3 475.6,244.0 478.6,247.1 481.0,249.1 483.4,249.9 485.6,250.2 488.3,248.8 490.0,249.7 492.2,252.7 494.9,253.3 500.8,253.9 501.0,251.1 503.9,250.1 503.9,248.8 502.8,248.5 502.3,245.9 499.8,244.7 497.5,241.7 499.1,239.1 498.6,237.6 496.7,237.4 495.8,235.5 495.8,232.1 494.9,231.7 494.8,230.0 495.6,228.7 495.5,226.6 494.7,223.9 492.9,224.0 490.2,221.7 488.2,221.4 485.3,219.7 481.8,220.4 480.6,221.8 478.7,222.0 478.7,222.2 476.0,223.8 472.8,223.9 470.3,222.2 469.4,221.8 467.5,219.3 466.8,219.3 465.3,218.3ZM489.2,254.4 488.8,251.7 488.4,255.7 489.9,255.7ZM468.1,236.8 466.6,234.9 463.7,233.4 461.8,230.8 462.1,228.9 462.9,226.3 460.8,225.6 459.2,222.5 458.0,223.0 455.3,222.1 454.0,222.7 452.0,224.7 452.5,226.6 452.4,228.7 452.1,229.8 447.7,232.4 448.9,235.7 451.6,236.2 455.6,238.4 461.9,243.4 466.1,243.7 467.0,241.4 468.3,241.0 468.9,241.3 470.2,241.4 468.8,240.1 468.0,238.7ZM487.1,260.4 488.1,256.5 488.3,254.6 488.5,254.6 488.7,252.6 488.2,251.6 484.9,255.7 478.7,256.7 481.2,259.7ZM488.2,251.6 488.7,252.6 488.7,250.8ZM487.1,260.4 488.3,262.2 487.2,267.5 480.7,270.1 483.6,276.2 485.8,275.3 490.6,272.8 493.8,270.3 493.4,268.4 495.7,266.2 497.5,260.9 494.5,258.0 490.2,256.1 489.9,255.7 488.4,255.7 488.5,254.6 488.3,254.6 488.1,256.5ZM461.9,243.4 455.6,238.4 451.6,236.2 448.9,235.7 448.5,236.1 444.3,237.4 446.8,240.0 445.8,241.3 444.2,241.7 442.7,243.4 440.4,242.9 439.8,246.3 442.0,247.8 444.5,251.2 446.2,254.4 448.2,256.7 451.2,263.5 452.3,265.4 455.0,268.2 457.1,272.7 459.6,275.6 460.3,276.9 460.9,276.2 461.5,273.9 463.1,274.3 465.6,274.1 466.0,274.5 468.2,274.7 469.1,274.5 469.7,275.4 470.8,275.1 472.2,272.3 474.2,271.1 480.7,270.1 487.2,267.5 488.3,262.2 487.0,260.4 481.2,259.7 477.7,255.4 476.7,255.0 475.2,252.5 474.8,250.2 471.5,247.3 470.3,245.1 468.8,245.1 466.1,243.7ZM546.2,294.7 545.9,298.9 546.4,302.8 547.1,304.2 548.0,304.3 548.9,303.8 550.5,302.5 550.7,300.4 549.3,297.6 546.6,294.2ZM636.0,274.0 636.5,277.7 635.3,277.0 636.9,281.1 638.4,281.6 637.9,282.6 639.0,284.0 640.5,283.4 642.3,283.4 642.8,285.3 646.4,286.8 645.6,284.0 643.4,283.2 641.6,282.9 639.9,280.8 639.5,278.2 641.4,277.1 640.6,274.5 639.8,271.4 637.2,271.1 636.2,271.4ZM648.7,296.5 648.0,298.3 646.5,297.3 644.7,297.8 643.2,299.1 643.2,301.7 644.9,300.4 646.3,300.2 647.5,301.5 648.1,303.6 650.9,305.1 651.2,301.2 652.7,303.3 653.3,301.0 653.0,298.9 652.2,296.2 650.1,294.2ZM647.5,291.0 648.7,293.6 649.6,293.4 650.5,290.8 649.7,287.9 646.9,287.1ZM642.0,292.3 643.6,292.3 644.4,289.7 641.6,288.7ZM643.6,294.9 645.5,296.0 645.5,291.3 644.1,291.3ZM645.5,293.9 647.0,294.7 648.0,293.6 647.0,292.3 646.1,290.5ZM636.3,290.2 634.3,293.6 631.6,297.8 632.3,297.6 635.4,292.8ZM638.3,286.0 639.9,287.9 640.4,286.6 639.5,284.7 637.7,284.5ZM382.9,311.3 383.6,310.4 382.8,310.0ZM378.1,319.7 378.5,319.0 377.9,318.8ZM306.0,275.6 306.4,274.9 305.6,274.8ZM309.3,280.8 309.6,280.2 308.8,279.8ZM307.8,276.8 308.2,276.4 307.3,276.1ZM310.9,278.1 311.4,277.7 310.7,277.4ZM462.0,350.9 462.4,350.2 461.8,349.6ZM464.4,352.2 464.8,351.9 464.2,351.5ZM742.3,360.6 743.4,360.6 743.7,359.1 742.5,358.3ZM743.5,363.2 744.3,362.7 743.2,361.7ZM744.6,366.6 745.4,366.1 744.5,365.9ZM745.8,369.3 746.4,369.3 746.1,368.7ZM620.1,317.2 621.0,316.0 624.5,316.5 627.0,316.0 626.5,313.8 628.7,310.9 628.8,308.7 633.2,308.9 634.3,308.5 636.9,306.2 633.9,304.6 633.1,303.1 631.4,301.5 630.9,301.5 629.5,303.8 628.2,305.4 626.9,306.3 628.3,306.2 627.9,308.4 626.8,309.1 625.1,307.8 625.2,307.6 624.8,307.9 622.8,311.6 618.9,313.5 616.9,315.4 615.1,314.4 615.2,315.7 617.1,317.6ZM649.8,344.7 652.8,343.4 654.8,341.9 654.1,341.7 649.5,342.4 649.4,343.4ZM200.7,270.3 199.9,271.1 200.3,272.9 201.1,273.6 202.1,272.2 204.7,271.5 207.3,272.2 208.2,271.1 206.5,269.3 204.8,268.2 200.9,268.0ZM200.7,270.3 200.9,268.0 198.8,267.6 197.1,268.2 199.1,271.3 194.3,271.8 195.7,272.6 199.8,272.3 200.3,272.9 199.9,271.1Z" fill="#fff7ec" stroke="#4a4440" stroke-opacity="0.4" stroke-width="0.5" stroke-linejoin="round"/>
<path d="M426.1,376.3 429.2,377.9 433.4,378.4 436.0,375.5 436.8,373.4 437.7,369.5 437.4,366.6 437.7,363.5 432.2,360.6 429.0,361.4 428.4,363.0 424.2,366.8 420.3,366.4 422.2,371.1 425.5,373.4ZM392.4,331.3 393.8,332.4 396.1,331.1 396.1,332.5 397.9,331.1 399.5,330.1 400.2,327.7 400.2,325.6 403.8,321.1 404.1,317.2 404.6,313.5 405.8,310.6 403.2,310.4 401.2,310.6 399.8,312.5 400.0,314.0 399.3,315.2 396.3,314.2 393.6,314.0 393.5,316.4 395.7,316.1 396.3,317.7 395.0,319.3 396.3,321.4 396.1,324.8 395.4,326.2 392.7,325.0 391.7,326.1 389.7,325.9 390.4,329.0 388.5,330.1 390.2,332.4 390.4,332.9 391.5,331.8ZM366.8,296.2 366.2,295.5 364.8,292.6 365.1,291.0 362.7,290.8 363.0,292.1 363.9,292.8 363.8,294.9 364.6,300.4 364.3,301.7 365.8,303.8 367.1,303.5 366.7,301.7ZM472.2,272.3 470.8,275.1 469.7,275.4 469.1,274.5 468.2,274.7 466.0,274.5 465.6,274.1 463.1,274.3 461.5,273.9 460.9,276.2 460.3,276.9 460.1,278.7 461.7,285.0 462.3,286.7 465.7,286.3 474.9,281.9 479.1,280.2 481.8,278.8 483.6,276.2 480.7,270.1 474.2,271.1ZM582.4,307.0 585.5,310.1 587.6,313.3 590.2,315.4 591.2,319.3 593.8,322.3 595.2,326.9 600.5,332.1 602.6,332.9 603.2,334.2 604.7,335.1 605.9,335.1 606.7,327.7 604.2,325.8 603.1,322.7 601.0,322.4 601.7,320.6 600.8,318.5 598.7,317.2 594.8,314.0 592.9,312.2 589.8,310.0 588.8,308.3 586.1,306.2 581.8,305.1ZM607.1,339.0 609.5,339.9 612.3,339.9 615.2,340.5 619.1,341.7 622.5,341.5 625.3,342.6 625.5,340.1 624.2,339.8 621.7,338.6 621.6,337.9 618.9,337.2 617.5,336.5 616.3,338.0 612.2,337.5 611.6,336.2 608.2,335.8 606.4,335.2 605.1,337.7ZM648.2,317.2 644.7,317.2 640.8,316.4 639.0,317.7 637.8,322.4 636.1,327.1 637.4,330.3 637.4,334.2 639.5,334.3 639.6,327.7 641.0,326.9 640.9,329.0 642.2,330.3 642.3,332.4 643.9,332.4 645.4,331.1 645.4,330.3 642.9,324.8 645.9,322.9 646.8,322.2 642.7,322.2 640.8,323.5 639.2,322.2 639.5,319.8 642.4,318.6 646.6,319.0 649.3,318.8 650.9,315.6 650.1,315.6ZM627.0,342.8 628.2,341.3 625.5,341.0ZM629.5,343.1 630.5,341.8 628.9,341.5ZM631.1,343.5 635.5,342.7 636.0,341.5 633.5,341.1 630.7,341.8ZM637.8,342.8 640.2,343.2 644.4,342.3 645.0,341.4 641.5,341.8 637.6,341.8ZM635.5,345.3 637.7,346.8 639.6,346.0 638.3,344.4 635.6,344.5ZM656.2,317.2 656.7,320.6 657.8,321.9 659.5,319.0 657.4,318.5 659.0,315.9 657.1,314.0ZM657.2,328.7 659.5,328.7 662.9,329.5 663.7,328.2 660.7,327.1 657.3,327.7ZM653.0,329.5 654.9,329.7 655.4,328.4 652.9,328.2ZM606.7,327.4 608.3,327.7 607.2,324.2 605.2,324.0ZM663.6,340.7 664.7,340.7 665.1,338.6 663.5,339.4ZM670.7,337.1 671.9,337.6 672.5,334.7 671.1,335.0ZM648.4,342.0 649.8,341.3 647.3,341.5ZM586.3,316.9 587.9,318.2 588.2,317.4 586.8,316.1ZM589.8,323.2 590.7,324.5 591.4,324.2 589.8,322.4ZM485.7,287.6 487.5,287.0 484.9,286.7ZM721.9,337.9 723.6,339.2 724.3,338.9 722.1,337.3ZM725.8,339.9 728.6,342.0 729.3,341.8 726.1,339.4ZM728.7,345.2 730.7,345.7 731.3,344.7 728.6,344.1ZM730.8,342.3 731.8,344.4 732.5,344.1 731.1,341.8ZM732.1,347.3 733.6,348.1 734.4,347.5 732.2,346.8ZM722.9,341.3 724.2,342.6 725.1,342.0 723.4,340.7ZM614.2,319.8 613.9,321.4 616.2,324.2 616.6,327.4 620.0,329.0 622.7,328.4 626.3,330.7 630.1,329.0 631.6,323.1 633.0,322.4 633.2,319.8 633.9,318.0 636.6,317.3 633.9,315.9 634.3,313.8 633.2,308.9 628.8,308.7 628.7,310.9 626.5,313.8 627.0,316.0 624.5,316.5 621.0,316.0 620.1,317.2 617.1,317.6 615.2,315.7 615.1,314.4 614.3,315.1 613.5,317.2ZM686.6,336.3 687.0,326.5 682.2,324.6 678.0,324.8 675.4,327.4 673.1,328.4 671.6,325.8 671.4,322.0 667.7,320.7 664.3,321.9 664.3,323.5 667.2,325.6 669.9,326.3 666.5,327.1 668.3,328.4 668.6,330.5 672.1,330.3 675.4,331.8 679.9,334.5 681.4,338.6 679.3,341.8 683.5,341.0 686.0,343.5 686.5,338.1 686.2,337.6ZM649.5,342.4 647.0,344.4 645.7,346.9 646.8,346.5 649.7,344.7 649.4,343.4Z" fill="#fee8c8" stroke="#4a4440" stroke-opacity="0.4" stroke-width="0.5" stroke-linejoin="round"/>
<path d="M344.0,299.9 342.1,300.7 341.4,299.1 339.6,297.7 339.4,297.7 338.7,299.4 336.6,301.7 338.2,303.3 339.9,304.4 342.2,306.7 345.7,308.4 346.0,304.4 343.5,302.8ZM334.9,287.5 337.0,287.4 337.0,285.8 335.6,283.4 335.2,281.2 330.1,276.2 326.0,276.6 324.1,280.7 323.1,281.3 324.3,282.1 324.8,283.2 325.0,284.2 327.9,284.2 328.6,283.6 330.4,284.5 331.5,284.5 331.4,285.0 327.9,284.9 326.9,285.4 324.7,285.4 324.8,287.5 328.3,286.6 331.7,286.7ZM430.3,324.1 429.7,327.0 431.2,327.1 431.9,325.8 433.0,326.1 433.8,325.8 433.8,324.2 433.0,322.5 431.8,323.6 431.1,323.3ZM463.8,296.2 470.6,298.9 473.0,298.9 466.2,307.0 463.4,307.0 461.3,308.7 459.7,308.8 457.2,312.5 457.3,322.0 458.6,324.1 462.4,318.8 464.9,316.1 467.3,314.4 469.2,312.7 472.4,309.1 474.5,305.8 477.3,298.9 479.4,295.2 479.5,293.1 480.6,292.5 479.9,292.1 480.1,288.9 479.9,288.5 476.2,290.1 471.6,290.6 469.4,291.7 466.0,292.5 464.1,292.3 462.5,290.2 461.2,291.1 460.9,292.1 462.6,294.9ZM561.9,256.7 560.4,255.7 561.9,253.9 559.8,252.3 560.4,250.6 563.6,251.8 563.8,253.6 569.8,254.4 569.4,256.0 567.7,256.7 567.7,258.3 569.0,259.6 570.4,259.6 571.4,262.2 572.5,261.7 572.8,259.4 572.2,256.9 574.2,257.4 575.1,255.2 574.6,253.9 575.4,251.8 579.2,248.9 579.1,246.0 577.1,244.4 575.8,242.9 574.2,243.8 571.8,243.7 569.8,245.5 568.5,246.9 566.6,247.1 567.9,248.0 568.1,249.5 563.1,249.9 561.3,249.5 560.2,246.4 558.8,246.8 559.5,250.7 557.3,250.7 552.9,249.8 551.4,248.4 550.0,247.8 548.3,248.2 546.8,247.3 540.5,244.4 541.8,240.8 536.0,237.2 534.8,234.6 536.4,234.8 534.9,232.1 534.6,230.0 531.3,226.9 530.0,229.1 524.3,228.9 523.4,229.9 524.3,231.9 525.5,233.4 526.3,234.2 528.0,235.3 526.7,237.1 527.2,238.5 526.0,239.5 525.1,241.4 524.3,244.0 522.7,246.7 519.4,246.5 517.8,249.3 519.3,250.5 520.7,252.5 522.3,256.0 519.9,256.5 517.3,256.2 516.0,257.8 518.9,260.1 520.8,259.9 518.2,261.4 520.9,264.8 523.2,265.5 525.6,264.1 526.1,261.7 527.2,263.0 527.1,266.2 527.9,270.1 529.4,275.3 533.9,286.0 536.3,290.4 537.6,293.8 539.3,297.6 540.8,298.7 542.2,296.5 544.2,295.5 544.6,293.6 545.8,292.8 545.5,288.7 546.3,285.5 545.6,283.2 545.3,279.8 549.9,276.1 551.9,273.5 553.6,271.9 555.5,269.3 558.9,266.2 559.0,263.7 561.2,263.0 563.7,263.0 562.3,259.1ZM522.3,256.0 520.7,252.5 519.3,250.5 517.8,249.3 519.4,246.5 522.7,246.7 524.3,244.0 525.1,241.4 526.0,239.5 527.2,238.5 526.7,237.1 528.0,235.3 526.3,234.2 525.5,233.4 524.3,231.9 523.4,229.9 524.3,228.9 530.0,229.1 531.3,226.9 527.6,226.0 526.5,224.0 523.8,222.3 522.2,223.4 519.1,223.5 517.5,224.6 516.7,225.5 518.1,227.7 517.5,229.8 517.8,230.7 516.4,232.5 514.9,233.2 515.0,236.3 514.3,237.1 512.5,236.6 511.8,237.9 510.1,237.9 509.2,238.9 509.5,241.6 506.7,242.6 504.9,243.0 503.5,242.6 501.3,243.0 497.5,241.7 499.8,244.7 502.3,245.9 502.8,248.5 503.9,248.8 503.9,250.1 501.0,251.1 500.8,253.9 502.4,254.0 505.0,253.7 507.5,253.9 511.7,253.3 512.9,254.8 514.1,257.0 516.0,257.8 517.3,256.2 519.9,256.5ZM703.7,335.2 706.1,336.3 709.7,335.2 712.3,332.9 712.7,330.8 711.1,330.8 707.5,332.9 703.8,334.2ZM709.7,327.1 712.4,328.7 714.0,331.8 714.7,332.1 714.1,330.0 711.3,327.7 709.7,326.6ZM718.2,335.2 719.4,337.3 720.7,337.6 719.7,335.5 718.0,333.9ZM701.5,325.6 701.9,325.0 700.1,325.0ZM686.2,337.6 686.5,338.1 686.0,343.6 689.4,343.9 691.7,341.8 695.1,339.9 697.7,341.0 700.0,344.5 701.8,346.4 706.2,347.7 708.3,346.6 706.4,346.2 703.9,343.6 701.9,340.7 700.3,337.5 702.3,337.3 700.5,335.2 697.8,333.4 695.1,329.9 690.6,328.2 687.0,326.5 686.6,336.3Z" fill="#fdd49e" stroke="#4a4440" stroke-opacity="0.4" stroke-width="0.5" stroke-linejoin="round"/>
<path d="M437.6,355.4 439.8,357.7 441.7,357.5 441.6,359.1 440.9,361.1 441.2,362.2 442.3,363.8 443.1,364.5 443.2,362.2 444.4,361.7 444.8,358.8 443.0,356.2 441.8,354.9 441.6,351.7 442.1,350.2 442.9,350.0 441.5,345.3 440.6,345.2 438.5,344.4 439.2,348.1 438.8,352.5ZM413.0,362.2 416.1,365.9 419.0,365.6 420.3,366.4 424.2,366.8 428.4,363.0 429.0,361.4 432.2,360.6 431.8,358.5 438.7,356.4 437.6,355.4 438.8,352.5 439.2,348.1 438.5,344.4 437.2,343.7 435.4,343.2 433.5,341.3 429.2,341.9 428.1,343.9 428.5,345.2 428.6,347.8 427.8,349.9 427.9,350.8 429.2,352.1 431.1,351.6 431.0,355.0 429.2,354.7 427.9,352.5 425.8,351.7 425.2,350.2 424.5,351.1 422.4,350.9 421.1,350.3 420.9,349.1 419.0,349.8 417.9,348.3 417.8,353.8 413.2,353.8ZM396.1,306.5 397.7,309.6 399.8,312.5 401.2,310.6 403.2,310.4 405.8,310.6 405.6,308.5 406.9,307.0 408.2,306.5 411.0,308.3 414.5,309.1 415.4,307.5 416.8,307.8 419.0,306.5 421.1,306.7 423.9,306.6 425.9,306.1 425.0,304.4 423.1,302.7 422.2,301.5 420.6,300.2 419.3,298.3 416.8,296.4 416.9,294.4 415.3,291.2 413.8,291.1 409.7,296.0 406.5,297.0 405.6,298.7 404.0,299.0 401.5,300.2 400.6,299.7 398.6,300.2 396.5,303.6ZM371.7,291.5 371.2,289.2 369.5,287.5 368.5,288.7 366.2,290.0 365.1,291.0 364.8,292.6 366.2,295.5 366.8,296.2 366.7,301.7 367.1,303.5 369.3,303.1 369.3,296.1 371.2,293.1ZM339.4,297.7 338.7,298.1 338.5,296.0 337.4,293.6 334.6,293.9 333.9,295.5 332.7,296.3 332.6,297.6 333.3,299.1 334.3,300.4 336.6,301.7 338.7,299.4ZM429.7,327.0 430.2,328.4 430.4,331.4 431.3,331.4 433.1,329.1 433.7,327.8 433.1,327.1 433.0,326.1 431.9,325.8 431.2,327.1ZM438.8,287.9 437.7,287.9 436.4,288.4 436.8,289.2 437.1,290.8 434.4,294.2 431.7,292.8 430.8,293.4 429.4,294.7 427.1,295.3 426.9,294.7 424.4,294.9 422.0,292.6 420.4,292.8 419.8,294.2 419.1,296.5 417.8,297.2 419.3,298.3 420.6,300.2 422.2,301.5 423.1,302.7 425.0,304.4 425.9,306.1 427.3,308.3 428.3,308.5 430.0,308.3 431.2,307.8 431.8,308.8 433.7,308.8 433.9,310.6 434.8,309.9 436.3,310.5 438.1,309.9 439.8,309.9 441.1,308.8 444.8,307.5 444.1,305.4 442.6,302.5 441.6,301.9 440.1,299.7 438.7,299.4 441.2,297.3 441.1,294.9 440.6,293.2 438.7,291.8ZM417.2,267.5 417.4,278.7 415.2,279.1 414.0,281.6 414.4,282.9 412.9,286.6 414.2,286.8 414.4,289.7 416.9,294.4 416.8,296.4 417.8,297.2 419.1,296.5 419.8,294.2 420.4,292.8 422.0,292.6 424.4,294.9 426.9,294.7 427.1,295.3 429.4,294.7 430.8,293.4 431.7,292.8 434.4,294.2 437.1,290.8 436.8,289.2 436.4,288.4 437.7,287.9 438.8,287.9 438.7,291.8 440.6,293.2 441.1,294.9 441.5,292.1 443.0,291.3 443.2,288.9 444.3,287.1 445.5,286.6 446.3,282.5 446.0,280.3 447.0,275.2 448.1,274.8 450.5,272.7 450.3,272.7 450.0,272.2 447.9,270.3 447.1,268.5 446.7,264.8 446.1,262.2 419.3,262.2 419.5,267.5Z" fill="#fdbb84" stroke="#4a4440" stroke-opacity="0.4" stroke-width="0.5" stroke-linejoin="round"/>
<path d="M449.4,349.4 448.6,350.4 446.4,350.4 444.9,349.8 442.1,350.2 441.6,351.7 441.8,354.9 443.0,356.2 444.8,358.8 444.4,361.7 443.2,362.2 443.1,364.5 442.3,363.8 441.2,362.2 440.9,361.1 441.6,359.1 441.7,357.5 439.8,357.7 438.7,356.4 431.8,358.5 432.2,360.6 437.7,363.5 437.4,366.6 437.7,369.5 436.8,373.4 436.0,375.5 433.4,378.4 433.8,381.3 434.7,383.6 434.3,387.7 434.5,390.1 436.3,390.1 435.8,388.1 435.8,387.1 438.2,385.7 441.6,384.2 442.7,382.2 442.9,377.9 442.3,375.8 441.3,373.7 441.5,371.7 445.2,369.1 446.9,366.6 451.3,364.5 453.7,362.5 455.4,360.6 455.9,358.5 455.5,357.0 455.8,350.4 455.6,347.3 452.9,349.1 451.0,349.4ZM393.1,331.8 392.4,331.3 391.5,331.8 390.5,332.9 391.1,334.8 391.7,334.7 391.7,333.1ZM405.0,365.3 411.5,366.9 416.1,365.9 413.0,362.2 413.2,353.8 417.8,353.8 417.9,348.3 414.2,348.6 413.8,348.8 413.8,345.7 413.0,344.9 413.2,341.5 412.9,338.9 410.3,338.9 410.0,338.1 407.4,338.1 406.6,340.6 403.1,340.9 401.7,338.6 401.1,337.1 400.9,335.1 393.8,335.1 391.2,335.8 392.4,338.1 393.5,342.3 392.7,343.4 394.5,347.8 394.3,350.2 393.6,352.8 391.5,355.4 390.7,359.3 389.7,361.1 389.7,364.9 392.5,364.3 394.8,365.3ZM389.1,314.0 396.3,314.2 399.3,315.2 400.0,314.0 399.8,312.5 397.7,309.6 396.1,306.5 396.5,303.6 398.6,300.2 397.8,297.8 396.2,296.4 394.9,294.7 395.5,293.6 398.5,293.6 397.5,291.3 397.3,288.7 397.0,287.9 396.3,286.6 395.4,286.3 395.1,285.6 395.4,287.4 396.4,289.7 394.6,291.0 393.2,293.6 393.2,294.9 392.3,296.8 391.0,297.8 390.1,301.5 388.5,302.8 387.3,301.4 385.5,302.0 383.7,304.4 383.4,307.9 383.5,309.1 384.9,309.5 385.8,312.1 385.4,313.8ZM364.6,300.4 363.8,294.9 363.9,292.8 363.0,292.1 362.7,290.8 356.6,291.0 356.6,294.9 357.3,298.3 355.7,302.3 356.7,306.5 356.5,306.7 358.2,307.4 362.5,305.3 365.2,304.6 365.8,303.8 364.3,301.7ZM356.6,294.9 356.6,291.0 362.7,290.8 365.1,291.0 366.2,290.0 368.5,288.7 367.5,286.6 365.3,285.8 364.4,284.0 363.3,283.2 363.5,280.8 361.4,280.4 358.4,282.6 356.4,283.2 355.9,284.2 355.0,285.0 353.4,285.3 353.0,286.8 351.1,288.7 350.4,292.5 352.2,294.4 354.1,293.9ZM357.3,298.3 356.6,294.9 354.1,293.9 352.2,294.4 350.4,292.5 349.3,293.1 348.8,292.2 347.0,293.1 344.7,293.1 345.4,295.2 344.2,297.6 343.5,302.8 346.0,304.4 345.7,308.4 349.0,306.8 351.5,306.3 353.8,306.1 356.5,306.7 356.7,306.5 355.7,302.3ZM337.4,293.6 338.5,296.0 338.7,298.1 339.6,297.7 341.4,299.1 342.1,300.7 344.0,299.9 344.2,297.6 345.4,295.2 344.7,293.1 343.1,291.5 343.8,290.0 342.4,287.1 340.4,288.1 338.5,288.7 337.0,287.4 334.9,287.5 331.7,286.7 331.7,289.2 329.4,289.7 328.7,291.1 329.5,292.3 330.7,293.6 332.7,296.3 333.9,295.5 334.6,293.9ZM442.7,316.7 443.5,314.8 442.2,310.5 441.1,308.8 439.8,309.9 438.1,309.9 436.3,310.5 434.8,309.9 433.9,310.6 433.7,313.5 434.7,314.0 432.2,317.1 431.7,318.2 431.1,321.4 431.1,323.3 431.8,323.6 433.0,322.5 433.7,322.4 441.0,322.4 441.0,319.5ZM459.3,309.5 457.4,309.5 456.6,308.7 454.6,309.7 453.9,310.9 450.6,310.4 447.7,308.2 446.1,308.2 445.6,307.8 444.8,307.5 441.1,308.8 442.2,310.5 443.5,314.8 442.7,316.7 441.0,319.5 441.0,322.4 449.7,327.9 449.8,329.5 453.0,332.1 454.2,330.4 455.3,328.2 455.4,326.9 457.0,325.8 458.6,324.1 457.3,322.0 457.2,312.5ZM443.2,288.9 443.0,291.3 441.5,292.1 441.1,294.9 441.2,297.3 438.7,299.4 440.1,299.7 441.6,301.9 442.6,302.5 444.1,305.4 444.8,307.5 445.6,307.8 446.1,308.2 447.7,308.2 450.6,310.4 453.9,310.9 454.6,309.7 456.6,308.7 457.4,309.5 459.3,309.5 459.7,308.8 461.3,308.7 463.4,307.0 466.2,307.0 473.0,298.9 470.6,298.9 463.8,296.2 462.6,294.9 460.9,292.1 461.2,291.1 458.5,290.9 458.2,289.4 459.8,287.2 456.8,283.8 456.2,282.9 454.1,281.9 452.1,281.3 450.7,281.9 449.3,280.8 448.7,282.6 446.3,282.5 445.5,286.6 444.3,287.1ZM396.3,286.6 397.3,288.7 397.5,291.3 398.5,293.6 395.5,293.6 394.9,294.7 396.2,296.4 397.8,297.8 398.6,300.2 400.6,299.7 401.5,300.2 404.0,299.0 405.6,298.7 406.5,297.0 409.7,296.0 413.8,291.1 415.3,291.2 414.4,289.7 414.2,286.8 412.9,286.6 414.4,282.9 414.0,281.6 415.2,279.1 417.4,278.7 417.3,268.8 398.9,258.4 396.7,259.6 397.0,264.1 398.9,266.4 398.5,267.6 397.7,273.0 398.2,275.6 395.8,278.7 394.0,281.9 393.7,284.0 395.1,285.6 395.4,286.3ZM337.0,287.4 338.5,288.7 340.4,288.1 342.4,287.1 343.8,290.0 343.1,291.5 344.7,293.1 347.0,293.1 348.8,292.2 349.3,293.1 350.4,292.5 351.1,288.7 353.0,286.8 353.4,285.3 355.0,285.0 355.9,284.2 356.4,283.2 358.4,282.6 361.4,280.4 363.5,280.8 365.2,280.7 366.2,279.8 371.0,279.5 371.2,279.0 372.1,277.9 372.7,275.4 372.6,269.7 370.2,270.0 370.1,268.2 367.1,266.7 365.6,264.6 352.3,254.4 348.5,254.4 349.1,264.8 350.3,276.6 350.8,277.0 350.5,279.2 338.6,279.5 336.6,279.1 336.1,280.5 335.2,281.2 335.6,283.4 337.0,285.8ZM474.7,352.2 474.4,354.3 472.5,355.1 472.2,357.0 470.5,359.1 468.3,361.1 465.1,362.2 462.9,364.3 462.7,366.9 463.7,369.5 463.3,372.4 461.0,375.5 460.4,377.9 461.5,385.2 464.0,386.7 468.4,385.0 470.7,378.4 473.2,372.1 475.0,366.4 475.7,362.7 476.5,360.4 477.9,360.1 477.3,358.5 476.9,353.8 475.7,351.2Z" fill="#fc8d59" stroke="#4a4440" stroke-opacity="0.4" stroke-width="0.5" stroke-linejoin="round"/>
<path d="M449.7,327.9 441.0,322.4 433.0,322.5 433.8,324.2 433.8,325.8 433.0,326.1 433.1,327.1 433.7,327.8 433.1,329.1 431.3,331.4 430.4,331.4 430.5,335.4 432.3,338.4 433.5,341.3 435.4,343.2 437.2,343.7 440.6,345.2 441.5,345.3 442.9,350.0 444.9,349.8 446.4,350.4 448.6,350.4 449.4,349.4 451.0,349.4 452.9,349.1 455.6,347.3 454.0,346.0 453.7,343.4 453.0,341.5 453.5,339.7 453.4,337.9 452.3,336.5 452.1,335.2 453.0,332.1 449.8,329.5ZM365.3,285.8 367.5,286.6 368.5,288.7 369.5,287.5 371.2,289.2 371.3,287.1 372.4,285.9 372.5,284.5 375.1,283.8 377.6,284.2 379.0,285.8 380.8,285.0 383.5,286.2 385.8,285.3 387.4,284.9 391.5,285.5 393.7,284.0 394.0,281.9 395.8,278.7 398.2,275.6 397.7,273.0 398.5,267.6 398.9,266.4 397.0,264.1 396.7,259.6 394.9,260.7 393.3,259.2 389.9,258.3 379.9,265.2 375.9,268.8 372.6,269.7 372.7,275.4 372.1,277.9 371.2,279.0 371.0,279.5 366.2,279.8 365.2,280.7 363.5,280.8 363.3,283.2 364.4,284.0ZM453.4,336.7 453.8,335.8 453.0,334.8ZM454.2,333.9 454.5,333.1 454.1,332.6Z" fill="#ef6548" stroke="#4a4440" stroke-opacity="0.4" stroke-width="0.5" stroke-linejoin="round"/>
<path d="M400.9,335.1 401.1,337.1 401.7,338.6 403.1,340.9 406.6,340.6 407.4,338.1 410.0,338.1 410.3,338.9 412.9,338.9 413.2,341.5 413.0,344.9 413.8,345.7 413.8,348.8 414.2,348.6 417.9,348.3 419.0,349.8 420.9,349.1 421.1,350.3 422.4,350.9 424.5,351.1 425.2,350.2 425.8,351.7 427.9,352.5 429.2,354.7 431.0,355.0 431.1,351.6 429.2,352.1 427.9,350.8 427.8,349.9 428.6,347.8 428.5,345.2 428.1,343.9 429.2,341.9 433.5,341.3 432.3,338.4 430.5,335.4 430.2,328.4 429.7,327.0 430.3,324.1 431.1,323.3 431.1,321.4 431.7,318.2 432.2,317.1 434.7,314.0 433.7,313.5 433.9,310.6 433.7,308.8 431.8,308.8 431.2,307.8 430.0,308.3 428.3,308.5 427.3,308.3 425.9,306.1 423.9,306.6 421.1,306.7 419.0,306.5 416.8,307.8 415.4,307.5 414.5,309.1 411.0,308.3 408.2,306.5 406.9,307.0 405.6,308.5 405.8,310.6 404.6,313.5 404.1,317.2 403.8,321.1 400.2,325.6 400.2,327.7 399.5,330.1 397.9,331.1 396.1,332.5 396.1,331.1 393.8,332.4 393.1,331.8 391.7,333.1 391.7,334.7 391.1,334.8 391.2,335.8 393.8,335.1Z" fill="#d7301f" stroke="#4a4440" stroke-opacity="0.4" stroke-width="0.5" stroke-linejoin="round"/>
<path d="M387.3,301.4 388.5,302.8 390.1,301.5 391.0,297.8 392.3,296.8 393.2,294.9 393.2,293.6 394.6,291.0 396.4,289.7 395.4,287.4 395.1,285.6 393.7,284.0 391.5,285.5 387.4,284.9 385.8,285.3 383.5,286.2 380.8,285.0 379.0,285.8 377.6,284.2 375.1,283.8 372.5,284.5 372.4,285.9 371.3,287.1 371.2,289.2 371.7,291.5 371.2,293.1 369.3,296.1 369.3,303.1 370.8,303.1 373.3,303.3 374.5,304.6 375.4,306.5 377.0,308.5 382.1,307.9 383.4,307.9 383.7,304.4 385.5,302.0Z" fill="#990000" stroke="#4a4440" stroke-opacity="0.4" stroke-width="0.5" stroke-linejoin="round"/>
</g>
<!-- legend -->
<g class="sans" font-size="12.4" fill="#5b5b5b">
<rect x="154.5" y="537.5" width="48.4" height="11" fill="url(#hatch)" stroke="#ccc" stroke-width="0.8"/>
<line x1="178.7" y1="534.5" x2="178.7" y2="537.5" stroke="#ccc" stroke-width="0.8"/>
<text x="178.4" y="529.8" text-anchor="middle" textLength="46" lengthAdjust="spacingAndGlyphs">No data</text>
<rect x="222.1" y="537.5" width="59.2" height="11" fill="#fff7ec"/>
<rect x="281.3" y="537.5" width="59.2" height="11" fill="#fee8c8"/>
<rect x="340.5" y="537.5" width="59.2" height="11" fill="#fdd49e"/>
<rect x="399.7" y="537.5" width="59.2" height="11" fill="#fdbb84"/>
<rect x="458.9" y="537.5" width="59.2" height="11" fill="#fc8d59"/>
<rect x="518.1" y="537.5" width="59.2" height="11" fill="#ef6548"/>
<rect x="577.3" y="537.5" width="59.2" height="11" fill="#d7301f"/>
<rect x="636.5" y="537.5" width="59.2" height="11" fill="#990000"/>
<rect x="222.1" y="537.5" width="473.6" height="11" fill="none" stroke="#ccc" stroke-width="0.8"/>
<line x1="222.1" y1="534.5" x2="222.1" y2="537.5" stroke="#ccc" stroke-width="0.8"/>
<text x="222.1" y="529.8" text-anchor="middle" textLength="7.4" lengthAdjust="spacingAndGlyphs">0</text>
<line x1="281.3" y1="534.5" x2="281.3" y2="548.5" stroke="#999" stroke-opacity="0.6" stroke-width="0.8"/>
<text x="281.3" y="529.8" text-anchor="middle" textLength="32.5" lengthAdjust="spacingAndGlyphs">1,000</text>
<line x1="340.5" y1="534.5" x2="340.5" y2="548.5" stroke="#999" stroke-opacity="0.6" stroke-width="0.8"/>
<text x="340.5" y="529.8" text-anchor="middle" textLength="34.0" lengthAdjust="spacingAndGlyphs">2,500</text>
<line x1="399.7" y1="534.5" x2="399.7" y2="548.5" stroke="#999" stroke-opacity="0.6" stroke-width="0.8"/>
<text x="399.7" y="529.8" text-anchor="middle" textLength="33.8" lengthAdjust="spacingAndGlyphs">5,000</text>
<line x1="458.9" y1="534.5" x2="458.9" y2="548.5" stroke="#999" stroke-opacity="0.6" stroke-width="0.8"/>
<text x="458.9" y="529.8" text-anchor="middle" textLength="40" lengthAdjust="spacingAndGlyphs">10,000</text>
<line x1="518.1" y1="534.5" x2="518.1" y2="548.5" stroke="#999" stroke-opacity="0.6" stroke-width="0.8"/>
<text x="518.1" y="529.8" text-anchor="middle" textLength="40.4" lengthAdjust="spacingAndGlyphs">25,000</text>
<line x1="577.3" y1="534.5" x2="577.3" y2="548.5" stroke="#999" stroke-opacity="0.6" stroke-width="0.8"/>
<text x="577.3" y="529.8" text-anchor="middle" textLength="40.4" lengthAdjust="spacingAndGlyphs">50,000</text>
<line x1="636.5" y1="534.5" x2="636.5" y2="548.5" stroke="#999" stroke-opacity="0.6" stroke-width="0.8"/>
<text x="636.5" y="529.8" text-anchor="middle" textLength="48" lengthAdjust="spacingAndGlyphs">100,000</text>
<text x="695.7" y="529.8" text-anchor="middle" textLength="48.6" lengthAdjust="spacingAndGlyphs">250,000</text>
</g>
<!-- footer -->
<g class="sans" font-size="12.6" fill="#858585">
<text x="16.4" y="580.8" font-weight="700" textLength="71.6" lengthAdjust="spacingAndGlyphs">Data source:</text>
<text x="91.6" y="580.8" textLength="357.4" lengthAdjust="spacingAndGlyphs">World Health Organization - Global Health Observatory (2025)</text>
<text x="621.6" y="580.8" textLength="209.6" lengthAdjust="spacingAndGlyphs">OurWorldinData.org/malaria | CC BY</text>
</g>
</svg>
</body>
</html>
